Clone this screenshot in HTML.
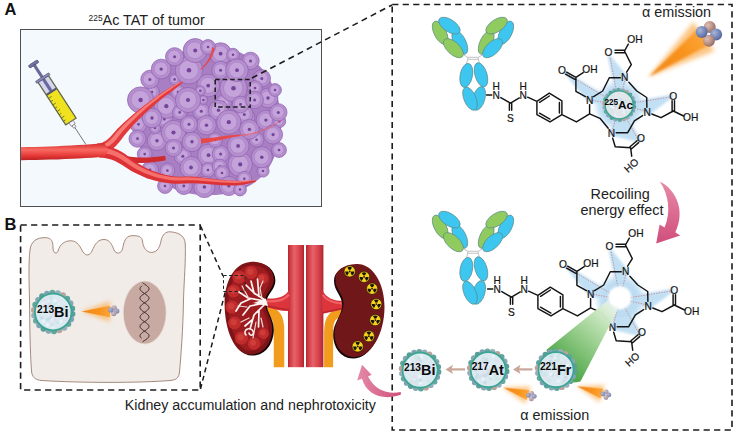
<!DOCTYPE html>
<html><head><meta charset="utf-8"><title>225Ac TAT</title>
<style>html,body{margin:0;padding:0;background:#fff;}body{width:736px;height:437px;overflow:hidden;position:relative;font-family:"Liberation Sans",sans-serif;}svg{display:block;position:absolute;left:0;top:0}</style>
</head><body>
<svg width="736" height="437" viewBox="0 0 736 437">
<defs>
<filter id="b1" x="-30%" y="-30%" width="160%" height="160%"><feGaussianBlur stdDeviation="1"/></filter>
<filter id="b2" x="-30%" y="-30%" width="160%" height="160%"><feGaussianBlur stdDeviation="2"/></filter>
<filter id="b3" x="-30%" y="-30%" width="160%" height="160%"><feGaussianBlur stdDeviation="3"/></filter>
<filter id="b05" x="-30%" y="-30%" width="160%" height="160%"><feGaussianBlur stdDeviation="0.5"/></filter>
<linearGradient id="ves" x1="0" y1="0" x2="0" y2="1">
 <stop offset="0" stop-color="#d83030"/><stop offset="0.35" stop-color="#f86a62"/><stop offset="0.7" stop-color="#e63a38"/><stop offset="1" stop-color="#b81e22"/></linearGradient>
<linearGradient id="vesT" gradientUnits="userSpaceOnUse" x1="0" y1="144" x2="0" y2="160.5">
 <stop offset="0" stop-color="#d83030"/><stop offset="0.35" stop-color="#f86a62"/><stop offset="0.7" stop-color="#e63a38"/><stop offset="1" stop-color="#b81e22"/></linearGradient>
<linearGradient id="vesv" x1="0" y1="0" x2="1" y2="0">
 <stop offset="0" stop-color="#b0262e"/><stop offset="0.12" stop-color="#cf3a42"/><stop offset="0.4" stop-color="#e8626a"/><stop offset="0.7" stop-color="#d8444c"/><stop offset="0.9" stop-color="#c2303a"/><stop offset="1" stop-color="#a8222c"/></linearGradient>
<linearGradient id="beam" x1="0" y1="0" x2="1" y2="0">
 <stop offset="0" stop-color="#f0861a"/><stop offset="0.6" stop-color="#f8921a"/><stop offset="1" stop-color="#fba53a"/></linearGradient>
<linearGradient id="gbeam" gradientUnits="userSpaceOnUse" x1="616" y1="302" x2="560" y2="364">
 <stop offset="0" stop-color="#f4faf2" stop-opacity="0.5"/><stop offset="0.12" stop-color="#e0f0da" stop-opacity="0.95"/><stop offset="0.3" stop-color="#c0e2b6"/><stop offset="0.55" stop-color="#9acf8e"/><stop offset="1" stop-color="#52a84c"/></linearGradient>
<radialGradient id="glow"><stop offset="0" stop-color="#a8d8f0"/><stop offset="0.6" stop-color="#bfe2f4"/><stop offset="1" stop-color="#d8eef8" stop-opacity="0"/></radialGradient>
<radialGradient id="sph1" cx="0.35" cy="0.35" r="0.7"><stop offset="0" stop-color="#a9b6d8"/><stop offset="0.6" stop-color="#7486ba"/><stop offset="1" stop-color="#566494"/></radialGradient>
<radialGradient id="sph2" cx="0.35" cy="0.35" r="0.7"><stop offset="0" stop-color="#dcc0b6"/><stop offset="0.6" stop-color="#b88e82"/><stop offset="1" stop-color="#8e6a66"/></radialGradient>
<radialGradient id="sph3" cx="0.35" cy="0.35" r="0.7"><stop offset="0" stop-color="#b4b8d4"/><stop offset="1" stop-color="#7c82aa"/></radialGradient>
<radialGradient id="sph4" cx="0.35" cy="0.35" r="0.7"><stop offset="0" stop-color="#d4c4c8"/><stop offset="1" stop-color="#9c8c9c"/></radialGradient>
<radialGradient id="nuc"><stop offset="0" stop-color="#dcecf4"/><stop offset="1" stop-color="#d2e4ee"/></radialGradient>
<linearGradient id="pink2" x1="0" y1="0" x2="1" y2="0"><stop offset="0" stop-color="#e58aa8"/><stop offset="1" stop-color="#cf4f7c"/></linearGradient>
<linearGradient id="pink" x1="0" y1="0" x2="0" y2="1"><stop offset="0" stop-color="#e889a6"/><stop offset="1" stop-color="#cf4f7c"/></linearGradient>
</defs>
<rect x="20.5" y="29.5" width="301" height="177" fill="#f3f9fd" stroke="#505050" stroke-width="1"/>
<text x="4.6" y="15" font-family="Liberation Sans, sans-serif" font-size="16.5" font-weight="bold" text-anchor="start" fill="#111" >A</text>
<text x="4.5" y="229.5" font-family="Liberation Sans, sans-serif" font-size="16.5" font-weight="bold" text-anchor="start" fill="#111" >B</text>
<text x="88.6" y="25" font-family="Liberation Sans, sans-serif" font-size="14.4" fill="#222"><tspan font-size="8.4" dy="-4.4">225</tspan><tspan dy="4.4">Ac TAT of tumor</tspan></text>
<g id="tumor">
<path d="M146,92 C154,66 180,46 208,46 C238,46 262,60 274,88 C284,110 284,140 272,162 C262,184 236,196 206,195 C178,195 156,184 144,158 C134,138 136,112 146,92Z" fill="#a77fc2"/>
<circle cx="263" cy="171" r="6.1" fill="#b48ecd" stroke="#9364b2" stroke-width="0.8"/>
<circle cx="262.7" cy="170.7" r="4.2" fill="#c4a3db" stroke="#a57cc3" stroke-width="0.6"/>
<circle cx="263" cy="171" r="1.3" fill="#74449a"/>
<circle cx="150" cy="170" r="8.5" fill="#b48ecd" stroke="#9364b2" stroke-width="0.8"/>
<circle cx="149.7" cy="169.7" r="5.9" fill="#c4a3db" stroke="#a57cc3" stroke-width="0.6"/>
<circle cx="150" cy="170" r="1.4" fill="#74449a"/>
<circle cx="152" cy="92" r="7.4" fill="#b48ecd" stroke="#9364b2" stroke-width="0.8"/>
<circle cx="151.7" cy="91.7" r="5.2" fill="#c4a3db" stroke="#a57cc3" stroke-width="0.6"/>
<circle cx="152" cy="92" r="1.3" fill="#74449a"/>
<circle cx="208.5" cy="155.2" r="11.0" fill="#b48ecd" stroke="#9364b2" stroke-width="0.8"/>
<circle cx="208.2" cy="154.89999999999998" r="7.7" fill="#c4a3db" stroke="#a57cc3" stroke-width="0.6"/>
<circle cx="208.5" cy="155.2" r="1.9" fill="#74449a"/>
<circle cx="246.3" cy="117" r="8.5" fill="#b48ecd" stroke="#9364b2" stroke-width="0.8"/>
<circle cx="246.0" cy="116.7" r="6.0" fill="#c4a3db" stroke="#a57cc3" stroke-width="0.6"/>
<circle cx="246.3" cy="117" r="1.5" fill="#74449a"/>
<circle cx="244.3" cy="114.4" r="8.8" fill="#b48ecd" stroke="#9364b2" stroke-width="0.8"/>
<circle cx="244.0" cy="114.10000000000001" r="6.1" fill="#c4a3db" stroke="#a57cc3" stroke-width="0.6"/>
<circle cx="244.3" cy="114.4" r="1.5" fill="#74449a"/>
<circle cx="223.5" cy="102.5" r="7.9" fill="#b48ecd" stroke="#9364b2" stroke-width="0.8"/>
<circle cx="223.2" cy="102.2" r="5.6" fill="#c4a3db" stroke="#a57cc3" stroke-width="0.6"/>
<circle cx="223.5" cy="102.5" r="1.3" fill="#74449a"/>
<circle cx="240.2" cy="164.4" r="12.2" fill="#b48ecd" stroke="#9364b2" stroke-width="0.8"/>
<circle cx="239.89999999999998" cy="164.1" r="8.5" fill="#c4a3db" stroke="#a57cc3" stroke-width="0.6"/>
<circle cx="240.2" cy="164.4" r="2.1" fill="#74449a"/>
<circle cx="144.7" cy="154.1" r="7.4" fill="#b48ecd" stroke="#9364b2" stroke-width="0.8"/>
<circle cx="144.39999999999998" cy="153.79999999999998" r="5.2" fill="#c4a3db" stroke="#a57cc3" stroke-width="0.6"/>
<circle cx="144.7" cy="154.1" r="1.3" fill="#74449a"/>
<circle cx="182.8" cy="156.2" r="8.5" fill="#b48ecd" stroke="#9364b2" stroke-width="0.8"/>
<circle cx="182.5" cy="155.89999999999998" r="6.0" fill="#c4a3db" stroke="#a57cc3" stroke-width="0.6"/>
<circle cx="182.8" cy="156.2" r="1.5" fill="#74449a"/>
<circle cx="256.6" cy="139.7" r="7.3" fill="#b48ecd" stroke="#9364b2" stroke-width="0.8"/>
<circle cx="256.3" cy="139.39999999999998" r="5.1" fill="#c4a3db" stroke="#a57cc3" stroke-width="0.6"/>
<circle cx="256.6" cy="139.7" r="1.3" fill="#74449a"/>
<circle cx="249.4" cy="129.4" r="9.8" fill="#b48ecd" stroke="#9364b2" stroke-width="0.8"/>
<circle cx="249.1" cy="129.1" r="6.8" fill="#c4a3db" stroke="#a57cc3" stroke-width="0.6"/>
<circle cx="249.4" cy="129.4" r="1.7" fill="#74449a"/>
<circle cx="164.3" cy="119.1" r="8.5" fill="#b48ecd" stroke="#9364b2" stroke-width="0.8"/>
<circle cx="164.0" cy="118.8" r="6.0" fill="#c4a3db" stroke="#a57cc3" stroke-width="0.6"/>
<circle cx="164.3" cy="119.1" r="1.5" fill="#74449a"/>
<circle cx="140.6" cy="100" r="13.1" fill="#b48ecd" stroke="#9364b2" stroke-width="0.8"/>
<circle cx="140.29999999999998" cy="99.7" r="9.2" fill="#c4a3db" stroke="#a57cc3" stroke-width="0.6"/>
<circle cx="140.6" cy="100" r="2.2" fill="#74449a"/>
<circle cx="220.6" cy="154.1" r="8.5" fill="#b48ecd" stroke="#9364b2" stroke-width="0.8"/>
<circle cx="220.29999999999998" cy="153.79999999999998" r="6.0" fill="#c4a3db" stroke="#a57cc3" stroke-width="0.6"/>
<circle cx="220.6" cy="154.1" r="1.5" fill="#74449a"/>
<circle cx="166.3" cy="106.2" r="12.2" fill="#b48ecd" stroke="#9364b2" stroke-width="0.8"/>
<circle cx="166.0" cy="105.9" r="8.5" fill="#c4a3db" stroke="#a57cc3" stroke-width="0.6"/>
<circle cx="166.3" cy="106.2" r="2.1" fill="#74449a"/>
<circle cx="208.2" cy="85.6" r="11.3" fill="#b48ecd" stroke="#9364b2" stroke-width="0.8"/>
<circle cx="207.89999999999998" cy="85.3" r="7.9" fill="#c4a3db" stroke="#a57cc3" stroke-width="0.6"/>
<circle cx="208.2" cy="85.6" r="1.9" fill="#74449a"/>
<circle cx="201.3" cy="111.3" r="8.5" fill="#b48ecd" stroke="#9364b2" stroke-width="0.8"/>
<circle cx="201.0" cy="111.0" r="6.0" fill="#c4a3db" stroke="#a57cc3" stroke-width="0.6"/>
<circle cx="201.3" cy="111.3" r="1.5" fill="#74449a"/>
<circle cx="165" cy="186" r="7.4" fill="#b48ecd" stroke="#9364b2" stroke-width="0.8"/>
<circle cx="164.7" cy="185.7" r="5.2" fill="#c4a3db" stroke="#a57cc3" stroke-width="0.6"/>
<circle cx="165" cy="186" r="1.3" fill="#74449a"/>
<circle cx="208" cy="170" r="7.3" fill="#b48ecd" stroke="#9364b2" stroke-width="0.8"/>
<circle cx="207.7" cy="169.7" r="5.1" fill="#c4a3db" stroke="#a57cc3" stroke-width="0.6"/>
<circle cx="208" cy="170" r="1.3" fill="#74449a"/>
<circle cx="157" cy="140.7" r="9.8" fill="#b48ecd" stroke="#9364b2" stroke-width="0.8"/>
<circle cx="156.7" cy="140.39999999999998" r="6.8" fill="#c4a3db" stroke="#a57cc3" stroke-width="0.6"/>
<circle cx="157" cy="140.7" r="1.7" fill="#74449a"/>
<circle cx="261.8" cy="157.2" r="10.6" fill="#b48ecd" stroke="#9364b2" stroke-width="0.8"/>
<circle cx="261.5" cy="156.89999999999998" r="7.4" fill="#c4a3db" stroke="#a57cc3" stroke-width="0.6"/>
<circle cx="261.8" cy="157.2" r="1.8" fill="#74449a"/>
<circle cx="261.8" cy="78.4" r="8.7" fill="#b48ecd" stroke="#9364b2" stroke-width="0.8"/>
<circle cx="261.5" cy="78.10000000000001" r="6.1" fill="#c4a3db" stroke="#a57cc3" stroke-width="0.6"/>
<circle cx="261.8" cy="78.4" r="1.5" fill="#74449a"/>
<circle cx="220.6" cy="53.7" r="10.9" fill="#b48ecd" stroke="#9364b2" stroke-width="0.8"/>
<circle cx="220.29999999999998" cy="53.400000000000006" r="7.6" fill="#c4a3db" stroke="#a57cc3" stroke-width="0.6"/>
<circle cx="220.6" cy="53.7" r="1.9" fill="#74449a"/>
<circle cx="268" cy="98" r="9.9" fill="#b48ecd" stroke="#9364b2" stroke-width="0.8"/>
<circle cx="267.7" cy="97.7" r="6.9" fill="#c4a3db" stroke="#a57cc3" stroke-width="0.6"/>
<circle cx="268" cy="98" r="1.7" fill="#74449a"/>
<circle cx="173.5" cy="132.5" r="12.2" fill="#b48ecd" stroke="#9364b2" stroke-width="0.8"/>
<circle cx="173.2" cy="132.2" r="8.5" fill="#c4a3db" stroke="#a57cc3" stroke-width="0.6"/>
<circle cx="173.5" cy="132.5" r="2.1" fill="#74449a"/>
<circle cx="174.6" cy="79.4" r="5.5" fill="#b48ecd" stroke="#9364b2" stroke-width="0.8"/>
<circle cx="174.29999999999998" cy="79.10000000000001" r="3.8" fill="#c4a3db" stroke="#a57cc3" stroke-width="0.6"/>
<circle cx="174.6" cy="79.4" r="1.3" fill="#74449a"/>
<circle cx="250.5" cy="60.9" r="8.7" fill="#b48ecd" stroke="#9364b2" stroke-width="0.8"/>
<circle cx="250.2" cy="60.6" r="6.1" fill="#c4a3db" stroke="#a57cc3" stroke-width="0.6"/>
<circle cx="250.5" cy="60.9" r="1.5" fill="#74449a"/>
<circle cx="192" cy="141.8" r="9.8" fill="#b48ecd" stroke="#9364b2" stroke-width="0.8"/>
<circle cx="191.7" cy="141.5" r="6.8" fill="#c4a3db" stroke="#a57cc3" stroke-width="0.6"/>
<circle cx="192" cy="141.8" r="1.7" fill="#74449a"/>
<circle cx="204.4" cy="187" r="10.6" fill="#b48ecd" stroke="#9364b2" stroke-width="0.8"/>
<circle cx="204.1" cy="186.7" r="7.4" fill="#c4a3db" stroke="#a57cc3" stroke-width="0.6"/>
<circle cx="204.4" cy="187" r="1.8" fill="#74449a"/>
<circle cx="149.9" cy="79.4" r="9.1" fill="#b48ecd" stroke="#9364b2" stroke-width="0.8"/>
<circle cx="149.6" cy="79.10000000000001" r="6.4" fill="#c4a3db" stroke="#a57cc3" stroke-width="0.6"/>
<circle cx="149.9" cy="79.4" r="1.5" fill="#74449a"/>
<circle cx="220.6" cy="70.2" r="8.8" fill="#b48ecd" stroke="#9364b2" stroke-width="0.8"/>
<circle cx="220.29999999999998" cy="69.9" r="6.1" fill="#c4a3db" stroke="#a57cc3" stroke-width="0.6"/>
<circle cx="220.6" cy="70.2" r="1.5" fill="#74449a"/>
<circle cx="275" cy="90" r="6.4" fill="#b48ecd" stroke="#9364b2" stroke-width="0.8"/>
<circle cx="274.7" cy="89.7" r="4.5" fill="#c4a3db" stroke="#a57cc3" stroke-width="0.6"/>
<circle cx="275" cy="90" r="1.3" fill="#74449a"/>
<circle cx="233" cy="54.7" r="6.4" fill="#b48ecd" stroke="#9364b2" stroke-width="0.8"/>
<circle cx="232.7" cy="54.400000000000006" r="4.5" fill="#c4a3db" stroke="#a57cc3" stroke-width="0.6"/>
<circle cx="233" cy="54.7" r="1.3" fill="#74449a"/>
<circle cx="219.6" cy="166.5" r="7.3" fill="#b48ecd" stroke="#9364b2" stroke-width="0.8"/>
<circle cx="219.29999999999998" cy="166.2" r="5.1" fill="#c4a3db" stroke="#a57cc3" stroke-width="0.6"/>
<circle cx="219.6" cy="166.5" r="1.3" fill="#74449a"/>
<circle cx="218.5" cy="110.3" r="10.0" fill="#b48ecd" stroke="#9364b2" stroke-width="0.8"/>
<circle cx="218.2" cy="110.0" r="7.0" fill="#c4a3db" stroke="#a57cc3" stroke-width="0.6"/>
<circle cx="218.5" cy="110.3" r="1.7" fill="#74449a"/>
<circle cx="238.1" cy="145.9" r="11.0" fill="#b48ecd" stroke="#9364b2" stroke-width="0.8"/>
<circle cx="237.79999999999998" cy="145.6" r="7.7" fill="#c4a3db" stroke="#a57cc3" stroke-width="0.6"/>
<circle cx="238.1" cy="145.9" r="1.9" fill="#74449a"/>
<circle cx="265.9" cy="120.1" r="9.8" fill="#b48ecd" stroke="#9364b2" stroke-width="0.8"/>
<circle cx="265.59999999999997" cy="119.8" r="6.8" fill="#c4a3db" stroke="#a57cc3" stroke-width="0.6"/>
<circle cx="265.9" cy="120.1" r="1.7" fill="#74449a"/>
<circle cx="233.5" cy="88.2" r="13.7" fill="#b48ecd" stroke="#9364b2" stroke-width="0.8"/>
<circle cx="233.2" cy="87.9" r="9.6" fill="#c4a3db" stroke="#a57cc3" stroke-width="0.6"/>
<circle cx="233.5" cy="88.2" r="2.3" fill="#74449a"/>
<circle cx="222" cy="173" r="7.3" fill="#b48ecd" stroke="#9364b2" stroke-width="0.8"/>
<circle cx="221.7" cy="172.7" r="5.1" fill="#c4a3db" stroke="#a57cc3" stroke-width="0.6"/>
<circle cx="222" cy="173" r="1.3" fill="#74449a"/>
<circle cx="240.5" cy="104.5" r="8.3" fill="#b48ecd" stroke="#9364b2" stroke-width="0.8"/>
<circle cx="240.2" cy="104.2" r="5.8" fill="#c4a3db" stroke="#a57cc3" stroke-width="0.6"/>
<circle cx="240.5" cy="104.5" r="1.4" fill="#74449a"/>
<circle cx="161.2" cy="69.1" r="9.9" fill="#b48ecd" stroke="#9364b2" stroke-width="0.8"/>
<circle cx="160.89999999999998" cy="68.8" r="6.9" fill="#c4a3db" stroke="#a57cc3" stroke-width="0.6"/>
<circle cx="161.2" cy="69.1" r="1.7" fill="#74449a"/>
<circle cx="191" cy="167.5" r="11.0" fill="#b48ecd" stroke="#9364b2" stroke-width="0.8"/>
<circle cx="190.7" cy="167.2" r="7.7" fill="#c4a3db" stroke="#a57cc3" stroke-width="0.6"/>
<circle cx="191" cy="167.5" r="1.9" fill="#74449a"/>
<circle cx="203.4" cy="100" r="4.4" fill="#b48ecd" stroke="#9364b2" stroke-width="0.8"/>
<circle cx="203.1" cy="99.7" r="3.1" fill="#c4a3db" stroke="#a57cc3" stroke-width="0.6"/>
<circle cx="203.4" cy="100" r="1.3" fill="#74449a"/>
<circle cx="189" cy="70.2" r="13.8" fill="#b48ecd" stroke="#9364b2" stroke-width="0.8"/>
<circle cx="188.7" cy="69.9" r="9.7" fill="#c4a3db" stroke="#a57cc3" stroke-width="0.6"/>
<circle cx="189" cy="70.2" r="2.3" fill="#74449a"/>
<circle cx="167.4" cy="170.6" r="7.4" fill="#b48ecd" stroke="#9364b2" stroke-width="0.8"/>
<circle cx="167.1" cy="170.29999999999998" r="5.2" fill="#c4a3db" stroke="#a57cc3" stroke-width="0.6"/>
<circle cx="167.4" cy="170.6" r="1.3" fill="#74449a"/>
<circle cx="195.2" cy="50.6" r="12.0" fill="#b48ecd" stroke="#9364b2" stroke-width="0.8"/>
<circle cx="194.89999999999998" cy="50.300000000000004" r="8.4" fill="#c4a3db" stroke="#a57cc3" stroke-width="0.6"/>
<circle cx="195.2" cy="50.6" r="2.0" fill="#74449a"/>
<circle cx="255" cy="88" r="7.3" fill="#b48ecd" stroke="#9364b2" stroke-width="0.8"/>
<circle cx="254.7" cy="87.7" r="5.1" fill="#c4a3db" stroke="#a57cc3" stroke-width="0.6"/>
<circle cx="255" cy="88" r="1.3" fill="#74449a"/>
<circle cx="254.6" cy="100" r="8.8" fill="#b48ecd" stroke="#9364b2" stroke-width="0.8"/>
<circle cx="254.29999999999998" cy="99.7" r="6.1" fill="#c4a3db" stroke="#a57cc3" stroke-width="0.6"/>
<circle cx="254.6" cy="100" r="1.5" fill="#74449a"/>
<circle cx="279" cy="150" r="7.4" fill="#b48ecd" stroke="#9364b2" stroke-width="0.8"/>
<circle cx="278.7" cy="149.7" r="5.2" fill="#c4a3db" stroke="#a57cc3" stroke-width="0.6"/>
<circle cx="279" cy="150" r="1.3" fill="#74449a"/>
<circle cx="279.3" cy="121.2" r="6.4" fill="#b48ecd" stroke="#9364b2" stroke-width="0.8"/>
<circle cx="279.0" cy="120.9" r="4.5" fill="#c4a3db" stroke="#a57cc3" stroke-width="0.6"/>
<circle cx="279.3" cy="121.2" r="1.3" fill="#74449a"/>
<circle cx="244.3" cy="178.8" r="7.4" fill="#b48ecd" stroke="#9364b2" stroke-width="0.8"/>
<circle cx="244.0" cy="178.5" r="5.2" fill="#c4a3db" stroke="#a57cc3" stroke-width="0.6"/>
<circle cx="244.3" cy="178.8" r="1.3" fill="#74449a"/>
<circle cx="208" cy="47" r="7.4" fill="#b48ecd" stroke="#9364b2" stroke-width="0.8"/>
<circle cx="207.7" cy="46.7" r="5.2" fill="#c4a3db" stroke="#a57cc3" stroke-width="0.6"/>
<circle cx="208" cy="47" r="1.3" fill="#74449a"/>
<circle cx="200.3" cy="90.7" r="5.0" fill="#b48ecd" stroke="#9364b2" stroke-width="0.8"/>
<circle cx="200.0" cy="90.4" r="3.5" fill="#c4a3db" stroke="#a57cc3" stroke-width="0.6"/>
<circle cx="200.3" cy="90.7" r="1.3" fill="#74449a"/>
<circle cx="183.8" cy="186" r="8.5" fill="#b48ecd" stroke="#9364b2" stroke-width="0.8"/>
<circle cx="183.5" cy="185.7" r="5.9" fill="#c4a3db" stroke="#a57cc3" stroke-width="0.6"/>
<circle cx="183.8" cy="186" r="1.4" fill="#74449a"/>
<circle cx="278.3" cy="112.4" r="8.7" fill="#b48ecd" stroke="#9364b2" stroke-width="0.8"/>
<circle cx="278.0" cy="112.10000000000001" r="6.1" fill="#c4a3db" stroke="#a57cc3" stroke-width="0.6"/>
<circle cx="278.3" cy="112.4" r="1.5" fill="#74449a"/>
<circle cx="215" cy="140" r="7.3" fill="#b48ecd" stroke="#9364b2" stroke-width="0.8"/>
<circle cx="214.7" cy="139.7" r="5.1" fill="#c4a3db" stroke="#a57cc3" stroke-width="0.6"/>
<circle cx="215" cy="140" r="1.3" fill="#74449a"/>
<circle cx="173.5" cy="148" r="8.5" fill="#b48ecd" stroke="#9364b2" stroke-width="0.8"/>
<circle cx="173.2" cy="147.7" r="6.0" fill="#c4a3db" stroke="#a57cc3" stroke-width="0.6"/>
<circle cx="173.5" cy="148" r="1.5" fill="#74449a"/>
<circle cx="228.8" cy="186" r="9.5" fill="#b48ecd" stroke="#9364b2" stroke-width="0.8"/>
<circle cx="228.5" cy="185.7" r="6.7" fill="#c4a3db" stroke="#a57cc3" stroke-width="0.6"/>
<circle cx="228.8" cy="186" r="1.6" fill="#74449a"/>
<circle cx="206.5" cy="125.3" r="9.8" fill="#b48ecd" stroke="#9364b2" stroke-width="0.8"/>
<circle cx="206.2" cy="125.0" r="6.8" fill="#c4a3db" stroke="#a57cc3" stroke-width="0.6"/>
<circle cx="206.5" cy="125.3" r="1.7" fill="#74449a"/>
<circle cx="178" cy="92" r="7.3" fill="#b48ecd" stroke="#9364b2" stroke-width="0.8"/>
<circle cx="177.7" cy="91.7" r="5.1" fill="#c4a3db" stroke="#a57cc3" stroke-width="0.6"/>
<circle cx="178" cy="92" r="1.3" fill="#74449a"/>
<circle cx="228.8" cy="122.2" r="12.2" fill="#b48ecd" stroke="#9364b2" stroke-width="0.8"/>
<circle cx="228.5" cy="121.9" r="8.5" fill="#c4a3db" stroke="#a57cc3" stroke-width="0.6"/>
<circle cx="228.8" cy="122.2" r="2.1" fill="#74449a"/>
<circle cx="179.7" cy="112.4" r="7.3" fill="#b48ecd" stroke="#9364b2" stroke-width="0.8"/>
<circle cx="179.39999999999998" cy="112.10000000000001" r="5.1" fill="#c4a3db" stroke="#a57cc3" stroke-width="0.6"/>
<circle cx="179.7" cy="112.4" r="1.3" fill="#74449a"/>
<circle cx="138.5" cy="124.3" r="8.5" fill="#b48ecd" stroke="#9364b2" stroke-width="0.8"/>
<circle cx="138.2" cy="124.0" r="5.9" fill="#c4a3db" stroke="#a57cc3" stroke-width="0.6"/>
<circle cx="138.5" cy="124.3" r="1.4" fill="#74449a"/>
<circle cx="189" cy="124.3" r="8.5" fill="#b48ecd" stroke="#9364b2" stroke-width="0.8"/>
<circle cx="188.7" cy="124.0" r="6.0" fill="#c4a3db" stroke="#a57cc3" stroke-width="0.6"/>
<circle cx="189" cy="124.3" r="1.5" fill="#74449a"/>
<circle cx="155" cy="128" r="5.5" fill="#b48ecd" stroke="#9364b2" stroke-width="0.8"/>
<circle cx="154.7" cy="127.7" r="3.8" fill="#c4a3db" stroke="#a57cc3" stroke-width="0.6"/>
<circle cx="155" cy="128" r="1.3" fill="#74449a"/>
<circle cx="174.6" cy="56.8" r="9.1" fill="#b48ecd" stroke="#9364b2" stroke-width="0.8"/>
<circle cx="174.29999999999998" cy="56.5" r="6.4" fill="#c4a3db" stroke="#a57cc3" stroke-width="0.6"/>
<circle cx="174.6" cy="56.8" r="1.5" fill="#74449a"/>
<circle cx="188" cy="100" r="12.6" fill="#b48ecd" stroke="#9364b2" stroke-width="0.8"/>
<circle cx="187.7" cy="99.7" r="8.8" fill="#c4a3db" stroke="#a57cc3" stroke-width="0.6"/>
<circle cx="188" cy="100" r="2.1" fill="#74449a"/>
<circle cx="152" cy="118" r="9.8" fill="#b48ecd" stroke="#9364b2" stroke-width="0.8"/>
<circle cx="151.7" cy="117.7" r="6.8" fill="#c4a3db" stroke="#a57cc3" stroke-width="0.6"/>
<circle cx="152" cy="118" r="1.7" fill="#74449a"/>
<circle cx="273.1" cy="134.6" r="9.5" fill="#b48ecd" stroke="#9364b2" stroke-width="0.8"/>
<circle cx="272.8" cy="134.29999999999998" r="6.7" fill="#c4a3db" stroke="#a57cc3" stroke-width="0.6"/>
<circle cx="273.1" cy="134.6" r="1.6" fill="#74449a"/>
<circle cx="237" cy="70.2" r="11.3" fill="#b48ecd" stroke="#9364b2" stroke-width="0.8"/>
<circle cx="236.7" cy="69.9" r="7.9" fill="#c4a3db" stroke="#a57cc3" stroke-width="0.6"/>
<circle cx="237" cy="70.2" r="1.9" fill="#74449a"/>
<circle cx="240" cy="189.5" r="6.4" fill="#b48ecd" stroke="#9364b2" stroke-width="0.8"/>
<circle cx="239.7" cy="189.2" r="4.5" fill="#c4a3db" stroke="#a57cc3" stroke-width="0.6"/>
<circle cx="240" cy="189.5" r="1.3" fill="#74449a"/>
<circle cx="137.5" cy="138.7" r="8.5" fill="#b48ecd" stroke="#9364b2" stroke-width="0.8"/>
<circle cx="137.2" cy="138.39999999999998" r="5.9" fill="#c4a3db" stroke="#a57cc3" stroke-width="0.6"/>
<circle cx="137.5" cy="138.7" r="1.4" fill="#74449a"/>
</g>
<path d="M212.1,47.2 L211.7,50.2 L211.0,53.0 L210.1,55.6 L209.0,58.0 L207.7,60.3 L206.4,62.4 L204.9,64.3 L203.4,66.1 L201.8,67.7 L200.2,69.2 L200.8,69.8 L202.5,68.4 L204.2,66.9 L206.0,65.2 L207.7,63.3 L209.3,61.2 L210.7,59.0 L212.1,56.5 L213.2,53.8 L214.2,50.8 L214.9,47.8Z" fill="#e24a50" stroke-linejoin="round" />
<path d="M201.2,143.5 L204.7,143.0 L208.2,142.5 L211.6,141.8 L215.0,141.1 L218.3,140.4 L221.5,139.7 L224.7,138.9 L227.9,138.2 L231.0,137.6 L234.0,137.0 L237.1,136.6 L240.0,136.2 L240.0,134.8 L236.9,134.8 L233.8,135.0 L230.6,135.3 L227.4,135.6 L224.2,136.0 L221.0,136.5 L217.7,136.9 L214.3,137.4 L211.0,137.8 L207.6,138.1 L204.2,138.3 L200.8,138.5Z" fill="#e8484a" stroke-linejoin="round" />
<path d="M240.1,136.3 L244.5,135.8 L248.7,135.1 L252.6,134.2 L256.4,133.2 L260.0,132.0 L263.5,130.7 L266.8,129.2 L270.0,127.7 L273.1,126.0 L276.2,124.2 L279.2,122.2 L282.2,120.3 L281.8,119.7 L278.8,121.7 L275.8,123.5 L272.7,125.2 L269.6,126.8 L266.4,128.3 L263.0,129.7 L259.6,130.9 L256.0,132.0 L252.3,132.9 L248.4,133.7 L244.3,134.3 L239.9,134.7Z" fill="#e8606a" stroke-linejoin="round" opacity="0.8"/>
<path d="M121.3,160.9 L124.7,161.7 L128.2,162.2 L131.8,162.6 L135.4,162.9 L139.1,163.0 L142.9,162.9 L146.6,162.7 L150.4,162.4 L154.2,162.0 L158.1,161.5 L162.0,160.9 L165.8,160.3 L165.2,155.7 L161.3,156.3 L157.5,156.7 L153.7,157.1 L150.0,157.4 L146.4,157.5 L142.8,157.6 L139.2,157.5 L135.8,157.3 L132.4,157.0 L129.1,156.5 L125.9,155.9 L122.7,155.1Z" fill="#cf2a2e" stroke-linejoin="round" />
<path d="M101.9,154.7 L104.7,153.6 L107.5,152.2 L110.1,150.6 L112.4,149.0 L114.5,147.2 L116.3,145.4 L118.0,143.5 L119.6,141.7 L121.0,139.9 L122.3,138.2 L123.5,136.6 L124.6,135.2 L127.2,132.0 L130.2,128.7 L133.4,125.1 L136.9,121.4 L140.6,117.7 L144.6,113.8 L148.8,109.9 L153.3,105.9 L157.9,102.0 L162.8,98.1 L167.8,94.2 L173.1,90.5 L174.2,89.6 L175.3,88.7 L176.3,87.9 L177.2,87.2 L178.1,86.5 L178.9,85.8 L179.7,85.1 L180.4,84.5 L181.1,84.0 L181.8,83.4 L182.5,82.9 L183.2,82.4 L182.8,81.6 L182.0,81.9 L181.2,82.2 L180.3,82.6 L179.4,82.9 L178.6,83.3 L177.6,83.7 L176.6,84.2 L175.6,84.7 L174.5,85.2 L173.4,85.8 L172.2,86.4 L170.9,87.1 L165.3,90.6 L159.9,94.1 L154.7,97.7 L149.6,101.4 L144.8,105.0 L140.1,108.7 L135.7,112.3 L131.6,115.8 L127.6,119.3 L124.0,122.6 L120.6,125.8 L117.4,128.8 L116.0,130.5 L114.6,132.1 L113.3,133.6 L112.0,135.1 L110.6,136.6 L109.2,138.0 L107.7,139.3 L106.1,140.5 L104.4,141.6 L102.5,142.6 L100.5,143.5 L98.1,144.3Z" fill="#e23a3c" stroke-linejoin="round" />
<path d="M100.0,150.8 L102.7,149.7 L105.2,148.5 L107.6,147.1 L109.7,145.6 L111.6,144.0 L113.4,142.4 L115.0,140.7 L116.5,138.9 L117.9,137.2 L119.2,135.6 L120.5,134.0 L121.6,132.5 L124.4,129.4 L127.5,126.0 L130.9,122.6 L134.5,118.9 L138.4,115.2 L142.5,111.5 L146.8,107.6 L151.4,103.8 L156.2,99.9 L161.1,96.1 L166.3,92.3 L171.6,88.7 L172.8,87.8 L173.9,87.0 L175.0,86.3 L175.9,85.6 L176.8,85.0 L177.7,84.4 L178.5,83.8 L179.3,83.3 L180.1,82.8 L180.8,82.3 L181.6,81.8 L182.3,81.3 L182.1,81.1 L181.3,81.4 L180.6,81.8 L179.8,82.2 L178.9,82.6 L178.1,83.1 L177.2,83.6 L176.3,84.1 L175.3,84.6 L174.3,85.2 L173.2,85.9 L172.0,86.6 L170.8,87.3 L165.3,90.9 L160.0,94.5 L154.8,98.2 L149.9,101.9 L145.2,105.7 L140.7,109.4 L136.4,113.1 L132.4,116.7 L128.6,120.2 L125.0,123.6 L121.8,126.8 L118.8,129.9 L117.4,131.5 L116.1,133.1 L114.8,134.7 L113.5,136.3 L112.0,137.9 L110.5,139.4 L108.9,140.9 L107.2,142.3 L105.3,143.5 L103.2,144.7 L101.0,145.7 L98.4,146.6Z" fill="#f77c78" stroke-linejoin="round" />
<path d="M99.5,157.7 L102.3,157.8 L104.6,158.1 L106.9,158.5 L109.0,159.0 L111.1,159.6 L113.1,160.3 L115.0,161.1 L116.8,162.0 L118.6,163.0 L120.4,164.1 L122.2,165.1 L124.0,166.3 L127.5,168.6 L131.3,170.9 L135.3,173.0 L139.6,175.1 L144.0,177.0 L148.6,178.7 L153.4,180.2 L158.4,181.5 L163.5,182.5 L168.8,183.3 L174.3,183.7 L180.0,183.8 L186.1,183.4 L191.8,183.3 L197.6,183.5 L203.4,183.8 L209.4,184.3 L215.5,184.8 L221.7,185.2 L228.2,185.5 L234.9,185.4 L241.7,184.9 L248.8,183.5 L256.1,181.6 L255.9,180.4 L248.5,180.9 L241.5,180.9 L234.8,180.8 L228.4,180.5 L222.1,180.0 L216.0,179.3 L210.0,178.5 L204.0,177.7 L198.0,177.1 L192.0,176.6 L185.9,176.4 L180.0,176.8 L174.9,176.4 L169.9,175.7 L165.0,174.8 L160.4,173.6 L155.9,172.1 L151.7,170.5 L147.6,168.7 L143.7,166.7 L140.0,164.6 L136.5,162.4 L133.2,160.1 L130.0,157.7 L128.3,156.4 L126.4,155.0 L124.4,153.6 L122.3,152.3 L120.1,151.0 L117.7,149.8 L115.2,148.7 L112.5,147.7 L109.7,146.8 L106.7,146.1 L103.6,145.6 L100.5,145.3Z" fill="#dc3236" stroke-linejoin="round" />
<path d="M100.1,152.9 L102.9,153.1 L105.5,153.4 L108.0,153.9 L110.3,154.5 L112.6,155.2 L114.7,156.1 L116.7,157.0 L118.7,158.0 L120.6,159.1 L122.5,160.2 L124.3,161.4 L126.0,162.6 L129.5,164.9 L133.1,167.2 L137.0,169.4 L141.1,171.5 L145.3,173.4 L149.8,175.1 L154.4,176.7 L159.2,178.0 L164.2,179.1 L169.4,179.9 L174.8,180.4 L180.3,180.6 L186.3,180.2 L192.1,180.2 L198.0,180.4 L203.9,180.9 L209.9,181.4 L215.9,182.0 L222.2,182.5 L228.6,182.8 L235.2,182.9 L242.0,182.5 L249.0,181.5 L256.3,180.0 L256.3,179.6 L248.9,180.5 L241.9,180.8 L235.1,180.9 L228.6,180.7 L222.3,180.3 L216.2,179.7 L210.1,179.0 L204.1,178.3 L198.2,177.7 L192.2,177.4 L186.2,177.3 L180.3,177.6 L175.0,177.3 L169.9,176.7 L164.9,175.8 L160.1,174.7 L155.5,173.3 L151.1,171.7 L146.8,169.9 L142.8,167.9 L138.9,165.9 L135.3,163.7 L131.8,161.4 L128.6,159.0 L126.8,157.7 L124.9,156.4 L123.0,155.1 L121.0,153.9 L118.9,152.7 L116.7,151.7 L114.3,150.7 L111.8,149.8 L109.2,149.0 L106.4,148.4 L103.5,147.9 L100.5,147.7Z" fill="#f5706c" stroke-linejoin="round" />
<path d="M21.1,160.2 L28.4,160.1 L35.7,160.0 L43.0,159.8 L50.3,159.6 L57.5,159.4 L64.7,159.1 L71.7,158.8 L78.6,158.5 L85.4,158.1 L92.0,157.7 L98.4,157.2 L104.5,156.8 L103.5,143.2 L97.4,143.7 L91.1,144.2 L84.6,144.7 L77.9,145.1 L71.0,145.5 L64.1,145.8 L57.0,146.2 L49.9,146.5 L42.6,146.7 L35.4,146.9 L28.2,147.1 L20.9,147.2Z" fill="url(#vesT)" stroke-linejoin="round" />
<path d="M97,143.6 L104,143 L109,150 L104,157 L97,157Z" fill="url(#vesT)"/>
<g transform="translate(33.6,64) rotate(-33)">
<rect x="-5.4" y="-1.5" width="10.8" height="3" rx="1.3" fill="#7272a6" stroke="#45456e" stroke-width="0.7"/>
<rect x="-1.2" y="1" width="2.4" height="32" fill="#6a6aa0" stroke="#45456e" stroke-width="0.5"/>
<rect x="-6.2" y="17.5" width="12.4" height="51" fill="#d3d5f1"/>
<rect x="-1.3" y="18" width="2.6" height="15" fill="#6a6aa0" stroke="#45456e" stroke-width="0.4"/>
<rect x="-5.6" y="33.5" width="11.2" height="34.5" fill="#f0e21c"/>
<rect x="-6" y="31.8" width="12" height="2.2" fill="#55556e"/>
<rect x="-6.2" y="17.5" width="12.4" height="51" fill="none" stroke="#66663c" stroke-width="1.2"/>
<line x1="-5.8" x2="-2.6" y1="37.0" y2="37.0" stroke="#5a5a2c" stroke-width="0.7"/>
<line x1="-5.8" x2="-3.6" y1="40.9" y2="40.9" stroke="#5a5a2c" stroke-width="0.7"/>
<line x1="-5.8" x2="-2.6" y1="44.8" y2="44.8" stroke="#5a5a2c" stroke-width="0.7"/>
<line x1="-5.8" x2="-3.6" y1="48.7" y2="48.7" stroke="#5a5a2c" stroke-width="0.7"/>
<line x1="-5.8" x2="-2.6" y1="52.6" y2="52.6" stroke="#5a5a2c" stroke-width="0.7"/>
<line x1="-5.8" x2="-3.6" y1="56.5" y2="56.5" stroke="#5a5a2c" stroke-width="0.7"/>
<line x1="-5.8" x2="-2.6" y1="60.4" y2="60.4" stroke="#5a5a2c" stroke-width="0.7"/>
<line x1="-5.8" x2="-3.6" y1="64.3" y2="64.3" stroke="#5a5a2c" stroke-width="0.7"/>
<rect x="-8" y="15.6" width="16" height="2.4" rx="0.9" fill="#8c8cb8" stroke="#45456e" stroke-width="0.6"/>
<rect x="-2.4" y="68.8" width="4.8" height="4" fill="#f4f4fa" stroke="#6a6a6a" stroke-width="0.6"/>
<rect x="-1.4" y="72.8" width="2.8" height="3" fill="#f4f4fa" stroke="#6a6a6a" stroke-width="0.6"/>
<line x1="0" y1="75.8" x2="0" y2="96" stroke="#666" stroke-width="0.8"/>
</g>
<rect x="215.2" y="79.5" width="35" height="27.5" fill="none" stroke="#1c1c1c" stroke-width="1.5" stroke-dasharray="4.5,3"/>
<line x1="252" y1="78" x2="392" y2="5" stroke="#1c1c1c" stroke-width="1.6" stroke-dasharray="6,4.3"/>
<path d="M392.2,4.5 H732 V430 H392.2 Z" fill="none" stroke="#1c1c1c" stroke-width="1.6" stroke-dasharray="6.2,4.3"/>
<g transform="translate(0,0)" stroke="#5e8a8a" stroke-width="0.7">
<ellipse cx="440.2" cy="32.8" rx="12.8" ry="6.0" transform="rotate(63 440.2 32.8)" fill="#8fcb5e"/>
<ellipse cx="459.8" cy="42.4" rx="13" ry="6.1" transform="rotate(64 459.8 42.4)" fill="#3cc6f0"/>
<ellipse cx="449.4" cy="25.6" rx="12.2" ry="6.1" transform="rotate(33 449.4 25.6)" fill="#3cc6f0"/>
<ellipse cx="453.4" cy="48.2" rx="12.4" ry="6.2" transform="rotate(43 453.4 48.2)" fill="#8fcb5e"/>
<ellipse cx="505.8" cy="32.8" rx="12.8" ry="6.0" transform="rotate(-63 505.8 32.8)" fill="#3cc6f0"/>
<ellipse cx="486.2" cy="42.4" rx="13" ry="6.1" transform="rotate(-64 486.2 42.4)" fill="#8fcb5e"/>
<ellipse cx="496.6" cy="25.6" rx="12.2" ry="6.1" transform="rotate(-33 496.6 25.6)" fill="#8fcb5e"/>
<ellipse cx="492.6" cy="48.2" rx="12.4" ry="6.2" transform="rotate(-43 492.6 48.2)" fill="#3cc6f0"/>
<path d="M462.5,54 L468,57.6 L466.5,64 M483.5,54 L478,57.6 L479.5,64 M468,57.3 H478 M468,59.3 H478" fill="none" stroke="#a9a9a9" stroke-width="0.7"/>
<ellipse cx="466.3" cy="75.4" rx="6.2" ry="12.2" transform="rotate(11 466.3 75.4)" fill="#3cc6f0"/>
<ellipse cx="481" cy="74.8" rx="6" ry="12.5" transform="rotate(-17 481 74.8)" fill="#3cc6f0"/>
<ellipse cx="478.9" cy="98.4" rx="6" ry="12.2" transform="rotate(16 478.9 98.4)" fill="#3cc6f0"/>
<ellipse cx="470" cy="98.7" rx="6" ry="12.3" transform="rotate(-23 470 98.7)" fill="#3cc6f0"/>
</g>
<g transform="translate(0,194)" stroke="#5e8a8a" stroke-width="0.7">
<ellipse cx="440.2" cy="32.8" rx="12.8" ry="6.0" transform="rotate(63 440.2 32.8)" fill="#8fcb5e"/>
<ellipse cx="459.8" cy="42.4" rx="13" ry="6.1" transform="rotate(64 459.8 42.4)" fill="#3cc6f0"/>
<ellipse cx="449.4" cy="25.6" rx="12.2" ry="6.1" transform="rotate(33 449.4 25.6)" fill="#3cc6f0"/>
<ellipse cx="453.4" cy="48.2" rx="12.4" ry="6.2" transform="rotate(43 453.4 48.2)" fill="#8fcb5e"/>
<ellipse cx="505.8" cy="32.8" rx="12.8" ry="6.0" transform="rotate(-63 505.8 32.8)" fill="#3cc6f0"/>
<ellipse cx="486.2" cy="42.4" rx="13" ry="6.1" transform="rotate(-64 486.2 42.4)" fill="#8fcb5e"/>
<ellipse cx="496.6" cy="25.6" rx="12.2" ry="6.1" transform="rotate(-33 496.6 25.6)" fill="#8fcb5e"/>
<ellipse cx="492.6" cy="48.2" rx="12.4" ry="6.2" transform="rotate(-43 492.6 48.2)" fill="#3cc6f0"/>
<path d="M462.5,54 L468,57.6 L466.5,64 M483.5,54 L478,57.6 L479.5,64 M468,57.3 H478 M468,59.3 H478" fill="none" stroke="#a9a9a9" stroke-width="0.7"/>
<ellipse cx="466.3" cy="75.4" rx="6.2" ry="12.2" transform="rotate(11 466.3 75.4)" fill="#3cc6f0"/>
<ellipse cx="481" cy="74.8" rx="6" ry="12.5" transform="rotate(-17 481 74.8)" fill="#3cc6f0"/>
<ellipse cx="478.9" cy="98.4" rx="6" ry="12.2" transform="rotate(16 478.9 98.4)" fill="#3cc6f0"/>
<ellipse cx="470" cy="98.7" rx="6" ry="12.3" transform="rotate(-23 470 98.7)" fill="#3cc6f0"/>
</g>
<g transform="translate(648.8,76.7) rotate(-36.1)">
<path d="M0,0 L68.3,-18.0 L68.3,18.0Z" fill="#fbae52" opacity="0.7" filter="url(#b2)"/>
<path d="M0,0 L68.3,-10.0 L68.3,10.0Z" fill="url(#beam)" filter="url(#b1)"/>
</g>
<circle cx="709.7" cy="26.9" r="6.0" fill="url(#sph2)"/>
<circle cx="716.1" cy="34.4" r="6.0" fill="url(#sph1)"/>
<circle cx="708.9" cy="40.8" r="6.0" fill="url(#sph2)"/>
<circle cx="701.7" cy="32.0" r="6.0" fill="url(#sph1)"/>
<g transform="translate(0,0)">
<g filter="url(#b1)">
<circle cx="619.2" cy="105.2" r="23" fill="#c2e0f4" filter="url(#b2)"/>
<path d="M619.2,105.2 L566,73 L589,101Z" fill="#c2e0f4" stroke="#c2e0f4" stroke-width="3" stroke-linejoin="round"/>
<path d="M619.2,105.2 L609,56 L626,77Z" fill="#c2e0f4" stroke="#c2e0f4" stroke-width="3" stroke-linejoin="round"/>
<path d="M619.2,105.2 L672,96 L649,113Z" fill="#c2e0f4" stroke="#c2e0f4" stroke-width="3" stroke-linejoin="round"/>
<path d="M619.2,105.2 L640,141 L611,134Z" fill="#c2e0f4" stroke="#c2e0f4" stroke-width="3" stroke-linejoin="round"/>
<circle cx="619.2" cy="105.2" r="18" fill="#bcdcf2"/>
</g>
<line x1="619.2" y1="105.2" x2="566" y2="73.5" stroke="#c47f86" stroke-width="0.8" stroke-dasharray="1.4,1.2"/>
<line x1="619.2" y1="105.2" x2="590.5" y2="100" stroke="#c47f86" stroke-width="0.8" stroke-dasharray="1.4,1.2"/>
<line x1="619.2" y1="105.2" x2="610" y2="57" stroke="#c47f86" stroke-width="0.8" stroke-dasharray="1.4,1.2"/>
<line x1="619.2" y1="105.2" x2="625" y2="79" stroke="#c47f86" stroke-width="0.8" stroke-dasharray="1.4,1.2"/>
<line x1="619.2" y1="105.2" x2="670" y2="97" stroke="#c47f86" stroke-width="0.8" stroke-dasharray="1.4,1.2"/>
<line x1="619.2" y1="105.2" x2="647" y2="111" stroke="#c47f86" stroke-width="0.8" stroke-dasharray="1.4,1.2"/>
<line x1="619.2" y1="105.2" x2="638.5" y2="140.5" stroke="#c47f86" stroke-width="0.8" stroke-dasharray="1.4,1.2"/>
<line x1="619.2" y1="105.2" x2="612" y2="132" stroke="#c47f86" stroke-width="0.8" stroke-dasharray="1.4,1.2"/>
<path d="M486.6,94.9 H491.8 M500.8,97.6 L510.5,103.2 L519.3,97.9 M509.4,103.2 V110.2 M511.7,103.2 V110.2 M527.6,97.2 L536.9,101.3 M536.9,101.3 L549.3,93.2 L561.9,100.9 L561.9,114.6 L550,121.9 L536.9,114.6 Z M539.6,102.3 L549.4,96.0 M559.4,102.5 V113.0 M549.9,119.1 L539.5,113.2 M561.9,114.6 L576.4,121.9 L589.6,113.9 L589.6,104.6 M589.6,113.9 L600,118.3 L608.2,128.2 M593.6,96.6 L602.7,91 L609.3,77.7 L620.3,77.7 M628.9,82.2 L636.8,91 L646.7,97.5 L646.9,107.2 M642.6,115.6 L634.4,120.8 L627.7,132.7 L616.2,132.7 M585.4,96.6 L575.9,91.3 L575.9,77.3 L583.2,72.6 M575.9,77.3 L566.6,72.2 M574.8,79.3 L565.5,74.2 M626.6,72.2 L631.3,64.6 L624.5,51.0 L628.3,44.2 M624.7,50.2 H615 M624.7,52.8 H615 M651.8,114 L661,117.7 L673.3,111 L683.6,116 M672.1,111 V100.6 M674.5,111 V100.6 M612.7,138.3 L615.2,146.7 L630.6,147.7 L631.7,156.2 M630.0,146.8 L637.0,140.8 M631.6,148.7 L638.6,142.6" stroke="#141414" stroke-width="1.45" fill="none" stroke-linecap="round" stroke-linejoin="round"/>
<text x="496.3" y="99.1" font-family="Liberation Sans, sans-serif" font-size="10.2" text-anchor="middle" fill="#141414" stroke="#141414" stroke-width="0.2">N</text>
<text x="496.3" y="90.0" font-family="Liberation Sans, sans-serif" font-size="10.2" text-anchor="middle" fill="#141414" stroke="#141414" stroke-width="0.2">H</text>
<text x="523.2" y="98.5" font-family="Liberation Sans, sans-serif" font-size="10.2" text-anchor="middle" fill="#141414" stroke="#141414" stroke-width="0.2">N</text>
<text x="523.2" y="89.5" font-family="Liberation Sans, sans-serif" font-size="10.2" text-anchor="middle" fill="#141414" stroke="#141414" stroke-width="0.2">H</text>
<text x="510.5" y="121.5" font-family="Liberation Sans, sans-serif" font-size="10.2" text-anchor="middle" fill="#141414" stroke="#141414" stroke-width="0.2">S</text>
<text x="589.6" y="103.5" font-family="Liberation Sans, sans-serif" font-size="10.2" text-anchor="middle" fill="#141414" stroke="#141414" stroke-width="0.2">N</text>
<text x="624.7" y="81.4" font-family="Liberation Sans, sans-serif" font-size="10.2" text-anchor="middle" fill="#141414" stroke="#141414" stroke-width="0.2">N</text>
<text x="647.2" y="115.7" font-family="Liberation Sans, sans-serif" font-size="10.2" text-anchor="middle" fill="#141414" stroke="#141414" stroke-width="0.2">N</text>
<text x="611.5" y="137.0" font-family="Liberation Sans, sans-serif" font-size="10.2" text-anchor="middle" fill="#141414" stroke="#141414" stroke-width="0.2">N</text>
<text x="562" y="74.0" font-family="Liberation Sans, sans-serif" font-size="10.2" text-anchor="middle" fill="#141414" stroke="#141414" stroke-width="0.2">O</text>
<text x="589.9" y="73.0" font-family="Liberation Sans, sans-serif" font-size="10.2" text-anchor="middle" fill="#141414" stroke="#141414" stroke-width="0.2">OH</text>
<text x="608.4" y="56.3" font-family="Liberation Sans, sans-serif" font-size="10.2" text-anchor="middle" fill="#141414" stroke="#141414" stroke-width="0.2">O</text>
<text x="635" y="42.5" font-family="Liberation Sans, sans-serif" font-size="10.2" text-anchor="middle" fill="#141414" stroke="#141414" stroke-width="0.2">OH</text>
<text x="673.3" y="99.5" font-family="Liberation Sans, sans-serif" font-size="10.2" text-anchor="middle" fill="#141414" stroke="#141414" stroke-width="0.2">O</text>
<text x="690.6" y="121.3" font-family="Liberation Sans, sans-serif" font-size="10.2" text-anchor="middle" fill="#141414" stroke="#141414" stroke-width="0.2">OH</text>
<text x="641" y="141.9" font-family="Liberation Sans, sans-serif" font-size="10.2" text-anchor="middle" fill="#141414" stroke="#141414" stroke-width="0.2">O</text>
<text x="631.3" y="169.1" font-family="Liberation Sans, sans-serif" font-size="10.2" text-anchor="middle" fill="#141414" stroke="#141414" stroke-width="0.2" transform="rotate(-42 631.3 165.4)">HO</text>
<circle cx="633.9" cy="106.4" r="2.3" fill="#5a9e98"/>
<circle cx="632.9" cy="110.5" r="2.3" fill="#7fa2b4"/>
<circle cx="630.8" cy="114.1" r="2.3" fill="#69a8a0"/>
<circle cx="627.7" cy="117.0" r="2.3" fill="#94aebc"/>
<circle cx="624.0" cy="118.9" r="2.3" fill="#b8a49c"/>
<circle cx="619.8" cy="119.7" r="2.3" fill="#5fa59b"/>
<circle cx="615.6" cy="119.3" r="2.3" fill="#86a6b2"/>
<circle cx="611.7" cy="117.7" r="2.3" fill="#5a9e98"/>
<circle cx="608.4" cy="115.1" r="2.3" fill="#7fa2b4"/>
<circle cx="606.0" cy="111.6" r="2.3" fill="#69a8a0"/>
<circle cx="604.7" cy="107.6" r="2.3" fill="#94aebc"/>
<circle cx="604.5" cy="103.4" r="2.3" fill="#b8a49c"/>
<circle cx="605.5" cy="99.3" r="2.3" fill="#5fa59b"/>
<circle cx="607.6" cy="95.7" r="2.3" fill="#86a6b2"/>
<circle cx="610.7" cy="92.8" r="2.3" fill="#5a9e98"/>
<circle cx="614.4" cy="90.9" r="2.3" fill="#7fa2b4"/>
<circle cx="618.6" cy="90.1" r="2.3" fill="#69a8a0"/>
<circle cx="622.8" cy="90.5" r="2.3" fill="#94aebc"/>
<circle cx="626.7" cy="92.1" r="2.3" fill="#b8a49c"/>
<circle cx="630.0" cy="94.7" r="2.3" fill="#5fa59b"/>
<circle cx="632.4" cy="98.2" r="2.3" fill="#86a6b2"/>
<circle cx="633.7" cy="102.2" r="2.3" fill="#5a9e98"/>
<circle cx="619.2" cy="104.9" r="14.0" fill="#e1e6ea" stroke="#3aa592" stroke-width="1.4"/>
<circle cx="625.4" cy="107.2" r="1.4" fill="#e2e0ee"/>
<circle cx="614.5" cy="115.5" r="1.4" fill="#c9dcea"/>
<circle cx="607.6" cy="102.8" r="1.4" fill="#cfe6e6"/>
<circle cx="621.2" cy="96.8" r="1.4" fill="#e8f2f8"/>
<circle cx="622.0" cy="110.6" r="1.4" fill="#e2e0ee"/>
<circle cx="617.1" cy="101.6" r="1.4" fill="#cfe6e6"/>
<circle cx="615.3" cy="105.4" r="1.4" fill="#e8f2f8"/>
<circle cx="611.2" cy="109.3" r="1.4" fill="#cfe6e6"/>
<circle cx="626.3" cy="104.7" r="1.4" fill="#e8f2f8"/>
<circle cx="626.0" cy="100.8" r="1.4" fill="#cfe6e6"/>
<circle cx="612.1" cy="112.3" r="1.4" fill="#e2e0ee"/>
<circle cx="626.0" cy="101.1" r="1.4" fill="#cfe6e6"/>
<circle cx="615.4" cy="115.2" r="1.4" fill="#e8f2f8"/>
<circle cx="614.5" cy="102.8" r="1.4" fill="#cfe6e6"/>
<circle cx="630.5" cy="102.3" r="1.4" fill="#c9dcea"/>
<circle cx="612.0" cy="95.5" r="1.4" fill="#cfe6e6"/>
<circle cx="630.2" cy="105.5" r="1.4" fill="#c9dcea"/>
<circle cx="611.5" cy="105.8" r="1.4" fill="#c9dcea"/>
<circle cx="620.9" cy="101.5" r="1.4" fill="#e8f2f8"/>
<circle cx="609.6" cy="105.2" r="1.4" fill="#cfe6e6"/>
<circle cx="627.1" cy="110.5" r="1.4" fill="#e8f2f8"/>
<circle cx="615.6" cy="105.1" r="1.4" fill="#c9dcea"/>
<circle cx="614.1" cy="108.7" r="1.4" fill="#e2e0ee"/>
<circle cx="620.1" cy="99.9" r="1.4" fill="#e2e0ee"/>
<circle cx="629.4" cy="105.8" r="1.4" fill="#e8f2f8"/>
<circle cx="614.9" cy="106.4" r="1.4" fill="#c9dcea"/>
<circle cx="626.2" cy="111.6" r="1.4" fill="#cfe6e6"/>
<circle cx="611.1" cy="106.6" r="1.4" fill="#e8f2f8"/>
<circle cx="618.4" cy="93.9" r="1.4" fill="#e2e0ee"/>
<circle cx="621.9" cy="107.0" r="1.4" fill="#c9dcea"/>
<circle cx="620.2" cy="97.6" r="1.4" fill="#cfe6e6"/>
<circle cx="629.8" cy="109.0" r="1.4" fill="#e2e0ee"/>
<circle cx="621.0" cy="100.0" r="1.4" fill="#c9dcea"/>
<circle cx="623.7" cy="110.0" r="1.4" fill="#e8f2f8"/>
<circle cx="623.0" cy="108.7" r="1.4" fill="#e8f2f8"/>
<circle cx="613.1" cy="107.7" r="1.4" fill="#e8f2f8"/>
<circle cx="613.2" cy="102.2" r="1.4" fill="#e8f2f8"/>
<circle cx="619.0" cy="103.1" r="1.4" fill="#e8f2f8"/>
<circle cx="623.9" cy="112.6" r="1.4" fill="#e8f2f8"/>
<circle cx="611.8" cy="101.4" r="1.4" fill="#e2e0ee"/>
<text x="618.8000000000001" y="109.0" font-family="Liberation Sans, sans-serif" font-weight="bold" text-anchor="middle" fill="#0a0a0a" font-size="11.8"><tspan font-size="8.2" dy="-3.7">225</tspan><tspan dy="3.7">Ac</tspan></text>
</g>
<text x="642.0" y="17.3" font-family="Liberation Sans, sans-serif" font-size="14.4" font-weight="normal" text-anchor="start" fill="#222" >α emission</text>
<text x="620.2" y="198.8" font-family="Liberation Sans, sans-serif" font-size="14.4" font-weight="normal" text-anchor="middle" fill="#222" >Recoiling</text>
<text x="622" y="215.4" font-family="Liberation Sans, sans-serif" font-size="14.4" font-weight="normal" text-anchor="middle" fill="#222" >energy effect</text>
<path d="M659.8,181.5 C677,190 685.5,212 675.3,232.2 L680.2,235.6 L656.2,243.6 L659.6,224.6 L664.6,227.6 C671,212 669,195 659.8,181.5Z" fill="url(#pink)"/>
<g transform="translate(1,194)">
<g filter="url(#b1)">
<circle cx="619.2" cy="105.2" r="23" fill="#c2e0f4" filter="url(#b2)"/>
<path d="M619.2,105.2 L566,73 L589,101Z" fill="#c2e0f4" stroke="#c2e0f4" stroke-width="3" stroke-linejoin="round"/>
<path d="M619.2,105.2 L609,56 L626,77Z" fill="#c2e0f4" stroke="#c2e0f4" stroke-width="3" stroke-linejoin="round"/>
<path d="M619.2,105.2 L672,96 L649,113Z" fill="#c2e0f4" stroke="#c2e0f4" stroke-width="3" stroke-linejoin="round"/>
<path d="M619.2,105.2 L640,141 L611,134Z" fill="#c2e0f4" stroke="#c2e0f4" stroke-width="3" stroke-linejoin="round"/>
<circle cx="619.2" cy="105.2" r="18" fill="#bcdcf2"/>
</g>
<line x1="619.2" y1="105.2" x2="566" y2="73.5" stroke="#c47f86" stroke-width="0.8" stroke-dasharray="1.4,1.2"/>
<line x1="619.2" y1="105.2" x2="590.5" y2="100" stroke="#c47f86" stroke-width="0.8" stroke-dasharray="1.4,1.2"/>
<line x1="619.2" y1="105.2" x2="610" y2="57" stroke="#c47f86" stroke-width="0.8" stroke-dasharray="1.4,1.2"/>
<line x1="619.2" y1="105.2" x2="625" y2="79" stroke="#c47f86" stroke-width="0.8" stroke-dasharray="1.4,1.2"/>
<line x1="619.2" y1="105.2" x2="670" y2="97" stroke="#c47f86" stroke-width="0.8" stroke-dasharray="1.4,1.2"/>
<line x1="619.2" y1="105.2" x2="647" y2="111" stroke="#c47f86" stroke-width="0.8" stroke-dasharray="1.4,1.2"/>
<line x1="619.2" y1="105.2" x2="638.5" y2="140.5" stroke="#c47f86" stroke-width="0.8" stroke-dasharray="1.4,1.2"/>
<line x1="619.2" y1="105.2" x2="612" y2="132" stroke="#c47f86" stroke-width="0.8" stroke-dasharray="1.4,1.2"/>
<path d="M486.6,94.9 H491.8 M500.8,97.6 L510.5,103.2 L519.3,97.9 M509.4,103.2 V110.2 M511.7,103.2 V110.2 M527.6,97.2 L536.9,101.3 M536.9,101.3 L549.3,93.2 L561.9,100.9 L561.9,114.6 L550,121.9 L536.9,114.6 Z M539.6,102.3 L549.4,96.0 M559.4,102.5 V113.0 M549.9,119.1 L539.5,113.2 M561.9,114.6 L576.4,121.9 L589.6,113.9 L589.6,104.6 M589.6,113.9 L600,118.3 L608.2,128.2 M593.6,96.6 L602.7,91 L609.3,77.7 L620.3,77.7 M628.9,82.2 L636.8,91 L646.7,97.5 L646.9,107.2 M642.6,115.6 L634.4,120.8 L627.7,132.7 L616.2,132.7 M585.4,96.6 L575.9,91.3 L575.9,77.3 L583.2,72.6 M575.9,77.3 L566.6,72.2 M574.8,79.3 L565.5,74.2 M626.6,72.2 L631.3,64.6 L624.5,51.0 L628.3,44.2 M624.7,50.2 H615 M624.7,52.8 H615 M651.8,114 L661,117.7 L673.3,111 L683.6,116 M672.1,111 V100.6 M674.5,111 V100.6 M612.7,138.3 L615.2,146.7 L630.6,147.7 L631.7,156.2 M630.0,146.8 L637.0,140.8 M631.6,148.7 L638.6,142.6" stroke="#141414" stroke-width="1.45" fill="none" stroke-linecap="round" stroke-linejoin="round"/>
<text x="496.3" y="99.1" font-family="Liberation Sans, sans-serif" font-size="10.2" text-anchor="middle" fill="#141414" stroke="#141414" stroke-width="0.2">N</text>
<text x="496.3" y="90.0" font-family="Liberation Sans, sans-serif" font-size="10.2" text-anchor="middle" fill="#141414" stroke="#141414" stroke-width="0.2">H</text>
<text x="523.2" y="98.5" font-family="Liberation Sans, sans-serif" font-size="10.2" text-anchor="middle" fill="#141414" stroke="#141414" stroke-width="0.2">N</text>
<text x="523.2" y="89.5" font-family="Liberation Sans, sans-serif" font-size="10.2" text-anchor="middle" fill="#141414" stroke="#141414" stroke-width="0.2">H</text>
<text x="510.5" y="121.5" font-family="Liberation Sans, sans-serif" font-size="10.2" text-anchor="middle" fill="#141414" stroke="#141414" stroke-width="0.2">S</text>
<text x="589.6" y="103.5" font-family="Liberation Sans, sans-serif" font-size="10.2" text-anchor="middle" fill="#141414" stroke="#141414" stroke-width="0.2">N</text>
<text x="624.7" y="81.4" font-family="Liberation Sans, sans-serif" font-size="10.2" text-anchor="middle" fill="#141414" stroke="#141414" stroke-width="0.2">N</text>
<text x="647.2" y="115.7" font-family="Liberation Sans, sans-serif" font-size="10.2" text-anchor="middle" fill="#141414" stroke="#141414" stroke-width="0.2">N</text>
<text x="611.5" y="137.0" font-family="Liberation Sans, sans-serif" font-size="10.2" text-anchor="middle" fill="#141414" stroke="#141414" stroke-width="0.2">N</text>
<text x="562" y="74.0" font-family="Liberation Sans, sans-serif" font-size="10.2" text-anchor="middle" fill="#141414" stroke="#141414" stroke-width="0.2">O</text>
<text x="589.9" y="73.0" font-family="Liberation Sans, sans-serif" font-size="10.2" text-anchor="middle" fill="#141414" stroke="#141414" stroke-width="0.2">OH</text>
<text x="608.4" y="56.3" font-family="Liberation Sans, sans-serif" font-size="10.2" text-anchor="middle" fill="#141414" stroke="#141414" stroke-width="0.2">O</text>
<text x="635" y="42.5" font-family="Liberation Sans, sans-serif" font-size="10.2" text-anchor="middle" fill="#141414" stroke="#141414" stroke-width="0.2">OH</text>
<text x="673.3" y="99.5" font-family="Liberation Sans, sans-serif" font-size="10.2" text-anchor="middle" fill="#141414" stroke="#141414" stroke-width="0.2">O</text>
<text x="690.6" y="121.3" font-family="Liberation Sans, sans-serif" font-size="10.2" text-anchor="middle" fill="#141414" stroke="#141414" stroke-width="0.2">OH</text>
<text x="641" y="141.9" font-family="Liberation Sans, sans-serif" font-size="10.2" text-anchor="middle" fill="#141414" stroke="#141414" stroke-width="0.2">O</text>
<text x="631.3" y="169.1" font-family="Liberation Sans, sans-serif" font-size="10.2" text-anchor="middle" fill="#141414" stroke="#141414" stroke-width="0.2" transform="rotate(-42 631.3 165.4)">HO</text>
</g>
<circle cx="619.8" cy="297.8" r="11.6" fill="#fff" filter="url(#b1)"/>
<path d="M608,300.3 L546.5,349.8 Q552,388 580.5,381.5 L619.6,306.2 Q612,307.5 608,300.3Z" fill="url(#gbeam)"/>
<circle cx="574.4" cy="371.5" r="2.9" fill="#5a9e98"/>
<circle cx="573.1" cy="376.6" r="2.9" fill="#7fa2b4"/>
<circle cx="570.4" cy="381.2" r="2.9" fill="#69a8a0"/>
<circle cx="566.6" cy="384.8" r="2.9" fill="#94aebc"/>
<circle cx="561.9" cy="387.2" r="2.9" fill="#b8a49c"/>
<circle cx="556.8" cy="388.1" r="2.9" fill="#5fa59b"/>
<circle cx="551.6" cy="387.6" r="2.9" fill="#86a6b2"/>
<circle cx="546.7" cy="385.6" r="2.9" fill="#5a9e98"/>
<circle cx="542.6" cy="382.4" r="2.9" fill="#7fa2b4"/>
<circle cx="539.6" cy="378.1" r="2.9" fill="#69a8a0"/>
<circle cx="537.9" cy="373.1" r="2.9" fill="#94aebc"/>
<circle cx="537.6" cy="367.9" r="2.9" fill="#b8a49c"/>
<circle cx="538.9" cy="362.8" r="2.9" fill="#5fa59b"/>
<circle cx="541.6" cy="358.2" r="2.9" fill="#86a6b2"/>
<circle cx="545.4" cy="354.6" r="2.9" fill="#5a9e98"/>
<circle cx="550.1" cy="352.2" r="2.9" fill="#7fa2b4"/>
<circle cx="555.2" cy="351.3" r="2.9" fill="#69a8a0"/>
<circle cx="560.4" cy="351.8" r="2.9" fill="#94aebc"/>
<circle cx="565.3" cy="353.8" r="2.9" fill="#b8a49c"/>
<circle cx="569.4" cy="357.0" r="2.9" fill="#5fa59b"/>
<circle cx="572.4" cy="361.3" r="2.9" fill="#86a6b2"/>
<circle cx="574.1" cy="366.3" r="2.9" fill="#5a9e98"/>
<circle cx="556" cy="369.7" r="17.5" fill="#dbe9f1" stroke="#3aa592" stroke-width="1.7"/>
<circle cx="562.9" cy="368.4" r="1.8" fill="#cfe6e6"/>
<circle cx="545.0" cy="373.0" r="1.8" fill="#cfe6e6"/>
<circle cx="555.9" cy="358.0" r="1.8" fill="#e8f2f8"/>
<circle cx="558.1" cy="375.7" r="1.8" fill="#cfe6e6"/>
<circle cx="542.9" cy="370.6" r="1.8" fill="#e8f2f8"/>
<circle cx="552.7" cy="366.5" r="1.8" fill="#cfe6e6"/>
<circle cx="551.3" cy="355.9" r="1.8" fill="#e8f2f8"/>
<circle cx="561.3" cy="363.6" r="1.8" fill="#cfe6e6"/>
<circle cx="547.4" cy="366.4" r="1.8" fill="#e2e0ee"/>
<circle cx="566.3" cy="370.7" r="1.8" fill="#cfe6e6"/>
<circle cx="545.1" cy="363.0" r="1.8" fill="#e2e0ee"/>
<circle cx="566.2" cy="364.2" r="1.8" fill="#cfe6e6"/>
<circle cx="563.3" cy="374.0" r="1.8" fill="#cfe6e6"/>
<circle cx="564.2" cy="380.7" r="1.8" fill="#c9dcea"/>
<circle cx="549.0" cy="380.4" r="1.8" fill="#cfe6e6"/>
<circle cx="565.6" cy="371.4" r="1.8" fill="#c9dcea"/>
<circle cx="565.7" cy="378.4" r="1.8" fill="#e2e0ee"/>
<circle cx="558.4" cy="355.1" r="1.8" fill="#cfe6e6"/>
<circle cx="552.3" cy="375.1" r="1.8" fill="#c9dcea"/>
<circle cx="558.2" cy="381.0" r="1.8" fill="#e8f2f8"/>
<circle cx="567.2" cy="365.6" r="1.8" fill="#e8f2f8"/>
<circle cx="555.6" cy="361.0" r="1.8" fill="#cfe6e6"/>
<circle cx="545.5" cy="377.4" r="1.8" fill="#e2e0ee"/>
<circle cx="541.5" cy="371.4" r="1.8" fill="#c9dcea"/>
<circle cx="558.8" cy="372.7" r="1.8" fill="#e8f2f8"/>
<circle cx="550.9" cy="374.1" r="1.8" fill="#e8f2f8"/>
<circle cx="560.1" cy="371.7" r="1.8" fill="#cfe6e6"/>
<circle cx="544.2" cy="366.4" r="1.8" fill="#cfe6e6"/>
<circle cx="565.7" cy="377.3" r="1.8" fill="#c9dcea"/>
<circle cx="542.8" cy="374.9" r="1.8" fill="#cfe6e6"/>
<circle cx="564.9" cy="361.4" r="1.8" fill="#e2e0ee"/>
<circle cx="562.9" cy="365.3" r="1.8" fill="#e2e0ee"/>
<circle cx="564.4" cy="368.2" r="1.8" fill="#c9dcea"/>
<circle cx="558.3" cy="360.0" r="1.8" fill="#cfe6e6"/>
<circle cx="550.7" cy="361.3" r="1.8" fill="#c9dcea"/>
<circle cx="545.8" cy="374.5" r="1.8" fill="#cfe6e6"/>
<circle cx="557.8" cy="357.0" r="1.8" fill="#cfe6e6"/>
<circle cx="545.7" cy="370.4" r="1.8" fill="#e2e0ee"/>
<circle cx="551.5" cy="356.3" r="1.8" fill="#c9dcea"/>
<circle cx="562.9" cy="382.7" r="1.8" fill="#cfe6e6"/>
<text x="555.6" y="374.7" font-family="Liberation Sans, sans-serif" font-weight="bold" text-anchor="middle" fill="#0a0a0a" font-size="14.4"><tspan font-size="10.2" dy="-4.5">221</tspan><tspan dy="4.5">Fr</tspan></text>
<circle cx="506.6" cy="371.5" r="2.9" fill="#5a9e98"/>
<circle cx="505.3" cy="376.6" r="2.9" fill="#7fa2b4"/>
<circle cx="502.6" cy="381.2" r="2.9" fill="#69a8a0"/>
<circle cx="498.8" cy="384.8" r="2.9" fill="#94aebc"/>
<circle cx="494.1" cy="387.2" r="2.9" fill="#b8a49c"/>
<circle cx="489.0" cy="388.1" r="2.9" fill="#5fa59b"/>
<circle cx="483.8" cy="387.6" r="2.9" fill="#86a6b2"/>
<circle cx="478.9" cy="385.6" r="2.9" fill="#5a9e98"/>
<circle cx="474.8" cy="382.4" r="2.9" fill="#7fa2b4"/>
<circle cx="471.8" cy="378.1" r="2.9" fill="#69a8a0"/>
<circle cx="470.1" cy="373.1" r="2.9" fill="#94aebc"/>
<circle cx="469.8" cy="367.9" r="2.9" fill="#b8a49c"/>
<circle cx="471.1" cy="362.8" r="2.9" fill="#5fa59b"/>
<circle cx="473.8" cy="358.2" r="2.9" fill="#86a6b2"/>
<circle cx="477.6" cy="354.6" r="2.9" fill="#5a9e98"/>
<circle cx="482.3" cy="352.2" r="2.9" fill="#7fa2b4"/>
<circle cx="487.4" cy="351.3" r="2.9" fill="#69a8a0"/>
<circle cx="492.6" cy="351.8" r="2.9" fill="#94aebc"/>
<circle cx="497.5" cy="353.8" r="2.9" fill="#b8a49c"/>
<circle cx="501.6" cy="357.0" r="2.9" fill="#5fa59b"/>
<circle cx="504.6" cy="361.3" r="2.9" fill="#86a6b2"/>
<circle cx="506.3" cy="366.3" r="2.9" fill="#5a9e98"/>
<circle cx="488.2" cy="369.7" r="17.5" fill="#dbe9f1" stroke="#3aa592" stroke-width="1.7"/>
<circle cx="484.2" cy="360.3" r="1.8" fill="#e2e0ee"/>
<circle cx="485.1" cy="382.6" r="1.8" fill="#c9dcea"/>
<circle cx="481.1" cy="362.9" r="1.8" fill="#cfe6e6"/>
<circle cx="477.6" cy="364.0" r="1.8" fill="#cfe6e6"/>
<circle cx="500.3" cy="373.1" r="1.8" fill="#e8f2f8"/>
<circle cx="476.4" cy="377.9" r="1.8" fill="#c9dcea"/>
<circle cx="493.4" cy="356.6" r="1.8" fill="#e8f2f8"/>
<circle cx="496.2" cy="369.3" r="1.8" fill="#e2e0ee"/>
<circle cx="477.4" cy="375.1" r="1.8" fill="#c9dcea"/>
<circle cx="488.9" cy="371.9" r="1.8" fill="#c9dcea"/>
<circle cx="480.4" cy="377.1" r="1.8" fill="#c9dcea"/>
<circle cx="483.6" cy="358.6" r="1.8" fill="#c9dcea"/>
<circle cx="488.2" cy="373.8" r="1.8" fill="#c9dcea"/>
<circle cx="490.0" cy="369.8" r="1.8" fill="#e2e0ee"/>
<circle cx="486.8" cy="369.2" r="1.8" fill="#e2e0ee"/>
<circle cx="481.2" cy="378.1" r="1.8" fill="#e2e0ee"/>
<circle cx="478.9" cy="363.8" r="1.8" fill="#e2e0ee"/>
<circle cx="490.6" cy="378.8" r="1.8" fill="#cfe6e6"/>
<circle cx="496.6" cy="360.7" r="1.8" fill="#cfe6e6"/>
<circle cx="482.8" cy="379.3" r="1.8" fill="#e8f2f8"/>
<circle cx="476.0" cy="370.2" r="1.8" fill="#c9dcea"/>
<circle cx="479.1" cy="368.0" r="1.8" fill="#c9dcea"/>
<circle cx="494.8" cy="375.5" r="1.8" fill="#cfe6e6"/>
<circle cx="484.3" cy="364.7" r="1.8" fill="#e2e0ee"/>
<circle cx="485.6" cy="375.4" r="1.8" fill="#c9dcea"/>
<circle cx="488.2" cy="363.8" r="1.8" fill="#e8f2f8"/>
<circle cx="491.4" cy="375.5" r="1.8" fill="#e8f2f8"/>
<circle cx="484.4" cy="358.8" r="1.8" fill="#cfe6e6"/>
<circle cx="495.8" cy="368.4" r="1.8" fill="#c9dcea"/>
<circle cx="502.7" cy="370.7" r="1.8" fill="#c9dcea"/>
<circle cx="497.8" cy="379.0" r="1.8" fill="#cfe6e6"/>
<circle cx="482.4" cy="374.0" r="1.8" fill="#e2e0ee"/>
<circle cx="486.6" cy="359.9" r="1.8" fill="#c9dcea"/>
<circle cx="496.8" cy="378.9" r="1.8" fill="#cfe6e6"/>
<circle cx="479.2" cy="377.1" r="1.8" fill="#cfe6e6"/>
<circle cx="501.0" cy="368.5" r="1.8" fill="#e2e0ee"/>
<circle cx="483.0" cy="360.9" r="1.8" fill="#cfe6e6"/>
<circle cx="484.1" cy="375.4" r="1.8" fill="#c9dcea"/>
<circle cx="497.2" cy="360.8" r="1.8" fill="#e2e0ee"/>
<circle cx="490.4" cy="370.7" r="1.8" fill="#cfe6e6"/>
<text x="487.8" y="374.7" font-family="Liberation Sans, sans-serif" font-weight="bold" text-anchor="middle" fill="#0a0a0a" font-size="14.4"><tspan font-size="10.2" dy="-4.5">217</tspan><tspan dy="4.5">At</tspan></text>
<circle cx="438.5" cy="372.0" r="2.9" fill="#5a9e98"/>
<circle cx="437.2" cy="377.1" r="2.9" fill="#7fa2b4"/>
<circle cx="434.5" cy="381.7" r="2.9" fill="#69a8a0"/>
<circle cx="430.7" cy="385.3" r="2.9" fill="#94aebc"/>
<circle cx="426.0" cy="387.7" r="2.9" fill="#b8a49c"/>
<circle cx="420.9" cy="388.6" r="2.9" fill="#5fa59b"/>
<circle cx="415.7" cy="388.1" r="2.9" fill="#86a6b2"/>
<circle cx="410.8" cy="386.1" r="2.9" fill="#5a9e98"/>
<circle cx="406.7" cy="382.9" r="2.9" fill="#7fa2b4"/>
<circle cx="403.7" cy="378.6" r="2.9" fill="#69a8a0"/>
<circle cx="402.0" cy="373.6" r="2.9" fill="#94aebc"/>
<circle cx="401.7" cy="368.4" r="2.9" fill="#b8a49c"/>
<circle cx="403.0" cy="363.3" r="2.9" fill="#5fa59b"/>
<circle cx="405.7" cy="358.7" r="2.9" fill="#86a6b2"/>
<circle cx="409.5" cy="355.1" r="2.9" fill="#5a9e98"/>
<circle cx="414.2" cy="352.7" r="2.9" fill="#7fa2b4"/>
<circle cx="419.3" cy="351.8" r="2.9" fill="#69a8a0"/>
<circle cx="424.5" cy="352.3" r="2.9" fill="#94aebc"/>
<circle cx="429.4" cy="354.3" r="2.9" fill="#b8a49c"/>
<circle cx="433.5" cy="357.5" r="2.9" fill="#5fa59b"/>
<circle cx="436.5" cy="361.8" r="2.9" fill="#86a6b2"/>
<circle cx="438.2" cy="366.8" r="2.9" fill="#5a9e98"/>
<circle cx="420.1" cy="370.2" r="17.5" fill="#dbe9f1" stroke="#3aa592" stroke-width="1.7"/>
<circle cx="411.6" cy="381.3" r="1.8" fill="#cfe6e6"/>
<circle cx="413.0" cy="382.6" r="1.8" fill="#e2e0ee"/>
<circle cx="428.6" cy="381.2" r="1.8" fill="#cfe6e6"/>
<circle cx="410.0" cy="367.7" r="1.8" fill="#e8f2f8"/>
<circle cx="421.4" cy="355.7" r="1.8" fill="#e8f2f8"/>
<circle cx="408.9" cy="365.3" r="1.8" fill="#e8f2f8"/>
<circle cx="416.6" cy="383.5" r="1.8" fill="#cfe6e6"/>
<circle cx="416.0" cy="380.4" r="1.8" fill="#cfe6e6"/>
<circle cx="417.0" cy="370.2" r="1.8" fill="#e2e0ee"/>
<circle cx="419.0" cy="358.4" r="1.8" fill="#c9dcea"/>
<circle cx="414.2" cy="378.8" r="1.8" fill="#e8f2f8"/>
<circle cx="414.4" cy="377.3" r="1.8" fill="#e2e0ee"/>
<circle cx="421.6" cy="356.9" r="1.8" fill="#e8f2f8"/>
<circle cx="419.0" cy="361.1" r="1.8" fill="#e2e0ee"/>
<circle cx="419.9" cy="376.6" r="1.8" fill="#e8f2f8"/>
<circle cx="420.5" cy="382.9" r="1.8" fill="#e8f2f8"/>
<circle cx="432.6" cy="371.6" r="1.8" fill="#e2e0ee"/>
<circle cx="425.3" cy="368.5" r="1.8" fill="#e2e0ee"/>
<circle cx="427.7" cy="370.1" r="1.8" fill="#cfe6e6"/>
<circle cx="434.6" cy="369.5" r="1.8" fill="#e2e0ee"/>
<circle cx="416.9" cy="358.1" r="1.8" fill="#c9dcea"/>
<circle cx="407.6" cy="369.9" r="1.8" fill="#e2e0ee"/>
<circle cx="432.0" cy="362.2" r="1.8" fill="#e2e0ee"/>
<circle cx="420.2" cy="380.3" r="1.8" fill="#c9dcea"/>
<circle cx="420.6" cy="361.8" r="1.8" fill="#c9dcea"/>
<circle cx="416.5" cy="358.5" r="1.8" fill="#cfe6e6"/>
<circle cx="428.8" cy="370.5" r="1.8" fill="#e8f2f8"/>
<circle cx="413.7" cy="382.0" r="1.8" fill="#e2e0ee"/>
<circle cx="434.7" cy="369.3" r="1.8" fill="#cfe6e6"/>
<circle cx="415.9" cy="356.3" r="1.8" fill="#cfe6e6"/>
<circle cx="419.2" cy="363.2" r="1.8" fill="#e8f2f8"/>
<circle cx="415.7" cy="367.8" r="1.8" fill="#c9dcea"/>
<circle cx="409.5" cy="362.1" r="1.8" fill="#e8f2f8"/>
<circle cx="434.2" cy="370.9" r="1.8" fill="#cfe6e6"/>
<circle cx="433.2" cy="364.9" r="1.8" fill="#e2e0ee"/>
<circle cx="419.1" cy="365.9" r="1.8" fill="#c9dcea"/>
<circle cx="423.3" cy="373.1" r="1.8" fill="#e2e0ee"/>
<circle cx="405.8" cy="371.6" r="1.8" fill="#e2e0ee"/>
<circle cx="409.6" cy="360.9" r="1.8" fill="#e8f2f8"/>
<circle cx="414.6" cy="376.7" r="1.8" fill="#e2e0ee"/>
<text x="419.70000000000005" y="375.2" font-family="Liberation Sans, sans-serif" font-weight="bold" text-anchor="middle" fill="#0a0a0a" font-size="14.4"><tspan font-size="10.2" dy="-4.5">213</tspan><tspan dy="4.5">Bi</tspan></text>
<line x1="532.5" y1="369.4" x2="517.5" y2="369.4" stroke="#c9a79a" stroke-width="2.2"/>
<path d="M513.0,369.4 L520.5,364.79999999999995 L518.9,369.4 L520.5,374.0Z" fill="#c9a79a"/>
<line x1="465" y1="369.4" x2="450" y2="369.4" stroke="#c9a79a" stroke-width="2.2"/>
<path d="M445.5,369.4 L453,364.79999999999995 L451.4,369.4 L453,374.0Z" fill="#c9a79a"/>
<g transform="translate(503.1,387.6) rotate(16.6)">
<path d="M0,0 L26.0,-9.0 L26.0,9.0Z" fill="#fbae52" opacity="0.7" filter="url(#b2)"/>
<path d="M0,0 L26.0,-5.0 L26.0,5.0Z" fill="url(#beam)" filter="url(#b05)"/>
</g>
<circle cx="531.7" cy="393.3" r="2.4" fill="url(#sph4)"/>
<circle cx="534.3" cy="396.3" r="2.4" fill="url(#sph3)"/>
<circle cx="531.4" cy="398.9" r="2.4" fill="url(#sph4)"/>
<circle cx="528.5" cy="395.4" r="2.4" fill="url(#sph3)"/>
<g transform="translate(576.8,386.2) rotate(16.4)">
<path d="M0,0 L26.3,-9.0 L26.3,9.0Z" fill="#fbae52" opacity="0.7" filter="url(#b2)"/>
<path d="M0,0 L26.3,-5.0 L26.3,5.0Z" fill="url(#beam)" filter="url(#b05)"/>
</g>
<circle cx="606.3" cy="391.9" r="2.4" fill="url(#sph4)"/>
<circle cx="608.9" cy="394.9" r="2.4" fill="url(#sph3)"/>
<circle cx="606.0" cy="397.5" r="2.4" fill="url(#sph4)"/>
<circle cx="603.1" cy="394.0" r="2.4" fill="url(#sph3)"/>
<text x="520.2" y="420" font-family="Liberation Sans, sans-serif" font-size="14.4" font-weight="normal" text-anchor="start" fill="#222" >α emission</text>
<rect x="20.6" y="225" width="179.6" height="165" fill="none" stroke="#1c1c1c" stroke-width="1.6" stroke-dasharray="6.2,4.3"/>
<path d="M29.5,300 C29,280 28.5,262 30,250 C31,241 37,237.6 45,237.6 C52,237.6 53,242 53,248 C53,253.5 57,254.5 58,251 C60,244 65,240.6 71,240.8 C78,241 80,247 83,252 C86,256.5 90,255.5 92,251 C95,244 98,239.4 104,239.5 C110,239.6 112,245 114,250 C116,254.5 121,254 122.5,249 C124,242 125,236 132,235.7 C138,235.5 142,236.5 142.5,241 C143,248 147,252.8 152,252.4 C158,252 160,246 161,241 C162.5,234 166,231.6 170,231.8 C177,232.2 184.5,235 185.2,243 C186,260 184,280 183.5,300 C183,330 181,355 179.5,372 C179,378 176,380 170,380.5 C140,383 80,383 42,380.5 C35,380 32,377 31.5,371 C30,350 29.8,325 29.5,300Z" fill="#f1ece8" stroke="#a58a7c" stroke-width="1"/>
<ellipse cx="144.7" cy="312.6" rx="21.8" ry="31.8" fill="#e6d6d0"/>
<ellipse cx="144.7" cy="312.6" rx="21" ry="31" fill="#c8aaa2"/>
<path d="M142.9,283.0 L143.6,283.5 L144.3,284.0 L145.1,284.5 L145.8,285.0 L146.5,285.5 L147.2,286.0 L147.7,286.5 L148.2,287.0 L148.6,287.5 L148.8,288.0 L149.0,288.5 L149.0,289.0 L148.9,289.5 L148.6,290.0 L148.3,290.5 L147.8,291.0 L147.3,291.5 L146.7,292.0 L146.0,292.5 L145.2,293.0 L144.5,293.5 L143.8,294.0 L143.0,294.5 L142.3,295.0 L141.7,295.5 L141.2,296.0 L140.7,296.5 L140.4,297.0 L140.1,297.5 L140.0,298.0 L140.0,298.5 L140.2,299.0 L140.4,299.5 L140.8,300.0 L141.3,300.5 L141.8,301.0 L142.5,301.5 L143.2,302.0 L143.9,302.5 L144.7,303.0 L145.4,303.5 L146.1,304.0 L146.8,304.5 L147.4,305.0 L147.9,305.5 L148.4,306.0 L148.7,306.5 L148.9,307.0 L149.0,307.5 L149.0,308.0 L148.8,308.5 L148.5,309.0 L148.1,309.5 L147.6,310.0 L147.0,310.5 L146.4,311.0 L145.7,311.5 L145.0,312.0 L144.2,312.5 L143.5,313.0 L142.7,313.5 L142.1,314.0 L141.5,314.5 L141.0,315.0 L140.6,315.5 L140.2,316.0 L140.1,316.5 L140.0,317.0 L140.1,317.5 L140.2,318.0 L140.6,318.5 L141.0,319.0 L141.5,319.5 L142.1,320.0 L142.7,320.5 L143.5,321.0 L144.2,321.5 L145.0,322.0 L145.7,322.5 L146.4,323.0 L147.0,323.5 L147.6,324.0 L148.1,324.5 L148.5,325.0 L148.8,325.5 L149.0,326.0 L149.0,326.5 L148.9,327.0 L148.7,327.5 L148.4,328.0 L147.9,328.5 L147.4,329.0 L146.8,329.5 L146.1,330.0 L145.4,330.5 L144.7,331.0 L143.9,331.5 L143.2,332.0 L142.5,332.5 L141.8,333.0 L141.3,333.5 L140.8,334.0 L140.4,334.5 L140.2,335.0 L140.0,335.5 L140.0,336.0 L140.1,336.5 L140.4,337.0 L140.7,337.5 L141.2,338.0" fill="none" stroke="#33262a" stroke-width="1" stroke-linecap="round"/>
<path d="M141.8,286.0 L141.3,286.5 L140.8,287.0 L140.4,287.5 L140.2,288.0 L140.0,288.5 L140.0,289.0 L140.1,289.5 L140.4,290.0 L140.7,290.5 L141.2,291.0 L141.7,291.5 L142.3,292.0 L143.0,292.5 L143.8,293.0 L144.5,293.5 L145.2,294.0 L146.0,294.5 L146.7,295.0 L147.3,295.5 L147.8,296.0 L148.3,296.5 L148.6,297.0 L148.9,297.5 L149.0,298.0 L149.0,298.5 L148.8,299.0 L148.6,299.5 L148.2,300.0 L147.7,300.5 L147.2,301.0 L146.5,301.5 L145.8,302.0 L145.1,302.5 L144.3,303.0 L143.6,303.5 L142.9,304.0 L142.2,304.5 L141.6,305.0 L141.1,305.5 L140.6,306.0 L140.3,306.5 L140.1,307.0 L140.0,307.5 L140.0,308.0 L140.2,308.5 L140.5,309.0 L140.9,309.5 L141.4,310.0 L142.0,310.5 L142.6,311.0 L143.3,311.5 L144.0,312.0 L144.8,312.5 L145.5,313.0 L146.3,313.5 L146.9,314.0 L147.5,314.5 L148.0,315.0 L148.4,315.5 L148.8,316.0 L148.9,316.5 L149.0,317.0 L148.9,317.5 L148.8,318.0 L148.4,318.5 L148.0,319.0 L147.5,319.5 L146.9,320.0 L146.3,320.5 L145.5,321.0 L144.8,321.5 L144.0,322.0 L143.3,322.5 L142.6,323.0 L142.0,323.5 L141.4,324.0 L140.9,324.5 L140.5,325.0 L140.2,325.5 L140.0,326.0 L140.0,326.5 L140.1,327.0 L140.3,327.5 L140.6,328.0 L141.1,328.5 L141.6,329.0 L142.2,329.5 L142.9,330.0 L143.6,330.5 L144.3,331.0 L145.1,331.5 L145.8,332.0 L146.5,332.5 L147.2,333.0 L147.7,333.5 L148.2,334.0 L148.6,334.5 L148.8,335.0 L149.0,335.5 L149.0,336.0 L148.9,336.5 L148.6,337.0 L148.3,337.5 L147.8,338.0 L147.3,338.5 L146.7,339.0 L146.0,339.5 L145.2,340.0 L144.5,340.5 L143.8,341.0 L143.0,341.5" fill="none" stroke="#33262a" stroke-width="1" stroke-linecap="round"/>
<circle cx="72.4" cy="313.9" r="3.0" fill="#5a9e98"/>
<circle cx="71.1" cy="319.3" r="3.0" fill="#7fa2b4"/>
<circle cx="68.3" cy="324.0" r="3.0" fill="#69a8a0"/>
<circle cx="64.3" cy="327.8" r="3.0" fill="#94aebc"/>
<circle cx="59.4" cy="330.3" r="3.0" fill="#b8a49c"/>
<circle cx="54.0" cy="331.3" r="3.0" fill="#5fa59b"/>
<circle cx="48.6" cy="330.7" r="3.0" fill="#86a6b2"/>
<circle cx="43.5" cy="328.7" r="3.0" fill="#5a9e98"/>
<circle cx="39.2" cy="325.3" r="3.0" fill="#7fa2b4"/>
<circle cx="36.0" cy="320.8" r="3.0" fill="#69a8a0"/>
<circle cx="34.2" cy="315.6" r="3.0" fill="#94aebc"/>
<circle cx="34.0" cy="310.1" r="3.0" fill="#b8a49c"/>
<circle cx="35.3" cy="304.7" r="3.0" fill="#5fa59b"/>
<circle cx="38.1" cy="300.0" r="3.0" fill="#86a6b2"/>
<circle cx="42.1" cy="296.2" r="3.0" fill="#5a9e98"/>
<circle cx="47.0" cy="293.7" r="3.0" fill="#7fa2b4"/>
<circle cx="52.4" cy="292.7" r="3.0" fill="#69a8a0"/>
<circle cx="57.8" cy="293.3" r="3.0" fill="#94aebc"/>
<circle cx="62.9" cy="295.3" r="3.0" fill="#b8a49c"/>
<circle cx="67.2" cy="298.7" r="3.0" fill="#5fa59b"/>
<circle cx="70.4" cy="303.2" r="3.0" fill="#86a6b2"/>
<circle cx="72.2" cy="308.4" r="3.0" fill="#5a9e98"/>
<circle cx="53.2" cy="312" r="18.3" fill="#dbe9f1" stroke="#3aa592" stroke-width="1.8"/>
<circle cx="44.0" cy="319.8" r="1.9" fill="#cfe6e6"/>
<circle cx="51.1" cy="297.6" r="1.9" fill="#cfe6e6"/>
<circle cx="48.7" cy="306.8" r="1.9" fill="#c9dcea"/>
<circle cx="50.9" cy="317.7" r="1.9" fill="#c9dcea"/>
<circle cx="50.1" cy="302.2" r="1.9" fill="#cfe6e6"/>
<circle cx="59.7" cy="313.0" r="1.9" fill="#e2e0ee"/>
<circle cx="57.8" cy="304.7" r="1.9" fill="#e8f2f8"/>
<circle cx="47.7" cy="319.3" r="1.9" fill="#c9dcea"/>
<circle cx="51.1" cy="324.1" r="1.9" fill="#e2e0ee"/>
<circle cx="47.6" cy="324.9" r="1.9" fill="#e8f2f8"/>
<circle cx="43.6" cy="304.1" r="1.9" fill="#e8f2f8"/>
<circle cx="44.5" cy="305.3" r="1.9" fill="#e2e0ee"/>
<circle cx="43.9" cy="299.9" r="1.9" fill="#e2e0ee"/>
<circle cx="60.8" cy="321.3" r="1.9" fill="#e8f2f8"/>
<circle cx="53.0" cy="319.2" r="1.9" fill="#e8f2f8"/>
<circle cx="64.9" cy="306.8" r="1.9" fill="#c9dcea"/>
<circle cx="43.5" cy="320.9" r="1.9" fill="#e8f2f8"/>
<circle cx="55.8" cy="303.3" r="1.9" fill="#cfe6e6"/>
<circle cx="48.1" cy="302.4" r="1.9" fill="#e2e0ee"/>
<circle cx="65.1" cy="307.7" r="1.9" fill="#cfe6e6"/>
<circle cx="53.0" cy="326.6" r="1.9" fill="#e8f2f8"/>
<circle cx="57.7" cy="322.4" r="1.9" fill="#cfe6e6"/>
<circle cx="48.7" cy="302.4" r="1.9" fill="#e8f2f8"/>
<circle cx="47.7" cy="311.5" r="1.9" fill="#e8f2f8"/>
<circle cx="43.1" cy="308.3" r="1.9" fill="#e8f2f8"/>
<circle cx="52.9" cy="324.9" r="1.9" fill="#cfe6e6"/>
<circle cx="48.9" cy="303.8" r="1.9" fill="#cfe6e6"/>
<circle cx="64.1" cy="307.3" r="1.9" fill="#e2e0ee"/>
<circle cx="54.6" cy="315.0" r="1.9" fill="#c9dcea"/>
<circle cx="41.8" cy="317.9" r="1.9" fill="#c9dcea"/>
<circle cx="65.0" cy="308.2" r="1.9" fill="#cfe6e6"/>
<circle cx="62.3" cy="313.0" r="1.9" fill="#cfe6e6"/>
<circle cx="67.9" cy="317.1" r="1.9" fill="#e2e0ee"/>
<circle cx="52.9" cy="314.6" r="1.9" fill="#e2e0ee"/>
<circle cx="48.9" cy="304.3" r="1.9" fill="#c9dcea"/>
<circle cx="66.4" cy="319.7" r="1.9" fill="#e2e0ee"/>
<circle cx="58.7" cy="306.8" r="1.9" fill="#cfe6e6"/>
<circle cx="47.4" cy="304.7" r="1.9" fill="#e2e0ee"/>
<circle cx="54.9" cy="300.7" r="1.9" fill="#e8f2f8"/>
<circle cx="54.6" cy="319.7" r="1.9" fill="#e2e0ee"/>
<text x="52.800000000000004" y="317.0" font-family="Liberation Sans, sans-serif" font-weight="bold" text-anchor="middle" fill="#0a0a0a" font-size="14.4"><tspan font-size="10.2" dy="-4.5">213</tspan><tspan dy="4.5">Bi</tspan></text>
<g transform="translate(81.5,311.5) rotate(0.0)">
<path d="M0,0 L28.5,-10.3 L28.5,10.3Z" fill="#fbae52" opacity="0.7" filter="url(#b2)"/>
<path d="M0,0 L28.5,-5.8 L28.5,5.8Z" fill="url(#beam)" filter="url(#b05)"/>
</g>
<circle cx="114.2" cy="307.8" r="2.6" fill="url(#sph4)"/>
<circle cx="116.8" cy="311.0" r="2.6" fill="url(#sph3)"/>
<circle cx="113.8" cy="313.6" r="2.6" fill="url(#sph4)"/>
<circle cx="110.8" cy="309.9" r="2.6" fill="url(#sph3)"/>
<path d="M200.5,226 L223,276 M200.5,389 L225.5,291" fill="none" stroke="#1c1c1c" stroke-width="1.5" stroke-dasharray="5,3.6"/>
<rect x="288" y="245" width="16" height="122.2" fill="url(#vesv)"/>
<rect x="306" y="245" width="17.4" height="122.2" fill="url(#vesv)"/>
<path d="M266,312 C276.5,312 279,319 279,331 V367.2" fill="none" stroke="#f29c1e" stroke-width="10.5"/>
<path d="M343,313 C331.5,313 328.6,320 328.6,332 V367.2" fill="none" stroke="#f29c1e" stroke-width="9"/>
<path d="M264,298.4 C276,299 285,298 289.2,289.5 L289.2,311 C282,311.4 274,309.5 264,306.6Z" fill="#dc363c"/>
<path d="M266,301 C276,302 284,301 289,294.5" fill="none" stroke="#ee6468" stroke-width="2.2"/>
<path d="M266,305.5 C276,308 283,309.4 289,309.6" fill="none" stroke="#b8242c" stroke-width="1.4"/>
<path d="M322.2,289.5 C326,298 333,301 344,301 L344,309.3 C334,311.5 327,313 322.2,313.8Z" fill="#dc363c"/>
<path d="M322.6,295 C327,301 334,303.4 343,303.4" fill="none" stroke="#ee6468" stroke-width="2"/>
<path d="M322.6,312.6 C329,311.4 336,309.8 343,308.2" fill="none" stroke="#b8242c" stroke-width="1.3"/>
<path d="M250,262 C263,260.6 273.8,268 273.8,279.5 C273.8,289 264.6,293.5 264.8,302 C265,312 272.6,318 272.2,329.5 C271.6,345 262,355 250,354.6 C234.5,354.2 224.6,330 224.6,303.5 C224.6,280 235,263.5 250,262Z" fill="#140505" transform="translate(1.6,1.0)"/>
<path d="M250,262 C263,260.6 273.8,268 273.8,279.5 C273.8,289 264.6,293.5 264.8,302 C265,312 272.6,318 272.2,329.5 C271.6,345 262,355 250,354.6 C234.5,354.2 224.6,330 224.6,303.5 C224.6,280 235,263.5 250,262Z" fill="#7e1417"/>
<path d="M250,265.5 C261,264.4 270,270.5 270,279.5 C270,287.5 261,292.5 261.2,302 C261.4,312 268.8,318 268.4,329 C268,342 260,351 250,350.8 C237.5,350.4 228.4,328 228.4,303.5 C228.4,282.5 237.5,266.8 250,265.5Z" fill="#9d1c20"/>
<circle cx="239" cy="277" r="6.6" fill="#c02c2c"/>
<circle cx="238.2" cy="276.2" r="3.3" fill="#d4453f" opacity="0.7"/>
<circle cx="251" cy="272.5" r="6.4" fill="#c02c2c"/>
<circle cx="250.2" cy="271.7" r="3.2" fill="#d4453f" opacity="0.7"/>
<circle cx="262.5" cy="278.5" r="5.6" fill="#c02c2c"/>
<circle cx="261.7" cy="277.7" r="2.8" fill="#d4453f" opacity="0.7"/>
<circle cx="233.5" cy="291" r="6.4" fill="#c02c2c"/>
<circle cx="232.7" cy="290.2" r="3.2" fill="#d4453f" opacity="0.7"/>
<circle cx="232" cy="307" r="6.6" fill="#c02c2c"/>
<circle cx="231.2" cy="306.2" r="3.3" fill="#d4453f" opacity="0.7"/>
<circle cx="234.5" cy="323" r="6.4" fill="#c02c2c"/>
<circle cx="233.7" cy="322.2" r="3.2" fill="#d4453f" opacity="0.7"/>
<circle cx="241.5" cy="338" r="6.6" fill="#c02c2c"/>
<circle cx="240.7" cy="337.2" r="3.3" fill="#d4453f" opacity="0.7"/>
<circle cx="254" cy="343.5" r="6.2" fill="#c02c2c"/>
<circle cx="253.2" cy="342.7" r="3.1" fill="#d4453f" opacity="0.7"/>
<circle cx="263.5" cy="333.5" r="5.4" fill="#c02c2c"/>
<circle cx="262.7" cy="332.7" r="2.7" fill="#d4453f" opacity="0.7"/>
<path d="M265,300 L254,293 L251,281 M259,296.5 L257.5,279 M255,294 L246,285 M265,301 L248,298 L239,292 M250,299 L241,303 L236,311 M265,303 L250,306 L243,315 M264,305 L254,315 L250,329 M259,310 L258.5,327 M252,320 L245,326" fill="none" stroke="#fdf6f4" stroke-width="1.7" stroke-linecap="round" stroke-linejoin="round"/>
<path d="M266,298.5 L268,306 L253,303 Z" fill="#fdf6f4"/>
<path d="M262,299 L260,288 L263,281 M248,297 L242,286 M247,307 L238,306 M249,318 L241,322 M256,322 L253,338 M261,318 L263,327" fill="none" stroke="#fbeeea" stroke-width="1.2" stroke-linecap="round" stroke-linejoin="round" opacity="0.9"/>
<path d="M246,335 c-4,-5 4,-9 7,-4 c2,4 -3,6 -4,2" fill="none" stroke="#fdf6f4" stroke-width="1.5" stroke-linecap="round"/>
<rect x="223.5" y="275.5" width="21.5" height="16" fill="none" stroke="#222" stroke-width="1" stroke-dasharray="3.2,2.4"/>
<path d="M356,264 C372,263 384.5,282 384.5,307 C384.5,334 371,357.5 354,357 C342,356.6 334.5,346 334.5,333 C334.5,321 343.5,314 343.5,303.5 C343.5,294 335.3,290 335.3,279 C335.3,270 344,264.6 356,264Z" fill="#160606" transform="translate(-1.3,1.5)"/>
<path d="M356,264 C372,263 384.5,282 384.5,307 C384.5,334 371,357.5 354,357 C342,356.6 334.5,346 334.5,333 C334.5,321 343.5,314 343.5,303.5 C343.5,294 335.3,290 335.3,279 C335.3,270 344,264.6 356,264Z" fill="#701719"/>
<circle cx="349.7" cy="271.4" r="5.6" fill="#f6d21c" stroke="#1a1408" stroke-width="0.6"/>
<path d="M348.92,270.04 L347.40,267.42 A4.59,4.59 0 0 1 352.00,267.42 L350.48,270.04 A1.57,1.57 0 0 0 348.92,270.04Z" fill="#1a1408"/>
<path d="M351.27,271.40 L354.29,271.40 A4.59,4.59 0 0 1 352.00,275.38 L350.48,272.76 A1.57,1.57 0 0 0 351.27,271.40Z" fill="#1a1408"/>
<path d="M348.92,272.76 L347.40,275.38 A4.59,4.59 0 0 1 345.11,271.40 L348.13,271.40 A1.57,1.57 0 0 0 348.92,272.76Z" fill="#1a1408"/>
<circle cx="349.7" cy="271.4" r="0.90" fill="#1a1408"/>
<circle cx="364.1" cy="276.9" r="5.6" fill="#f6d21c" stroke="#1a1408" stroke-width="0.6"/>
<path d="M363.32,275.54 L361.80,272.92 A4.59,4.59 0 0 1 366.40,272.92 L364.88,275.54 A1.57,1.57 0 0 0 363.32,275.54Z" fill="#1a1408"/>
<path d="M365.67,276.90 L368.69,276.90 A4.59,4.59 0 0 1 366.40,280.88 L364.88,278.26 A1.57,1.57 0 0 0 365.67,276.90Z" fill="#1a1408"/>
<path d="M363.32,278.26 L361.80,280.88 A4.59,4.59 0 0 1 359.51,276.90 L362.53,276.90 A1.57,1.57 0 0 0 363.32,278.26Z" fill="#1a1408"/>
<circle cx="364.1" cy="276.9" r="0.90" fill="#1a1408"/>
<circle cx="372.1" cy="288.7" r="5.6" fill="#f6d21c" stroke="#1a1408" stroke-width="0.6"/>
<path d="M371.32,287.34 L369.80,284.72 A4.59,4.59 0 0 1 374.40,284.72 L372.88,287.34 A1.57,1.57 0 0 0 371.32,287.34Z" fill="#1a1408"/>
<path d="M373.67,288.70 L376.69,288.70 A4.59,4.59 0 0 1 374.40,292.68 L372.88,290.06 A1.57,1.57 0 0 0 373.67,288.70Z" fill="#1a1408"/>
<path d="M371.32,290.06 L369.80,292.68 A4.59,4.59 0 0 1 367.51,288.70 L370.53,288.70 A1.57,1.57 0 0 0 371.32,290.06Z" fill="#1a1408"/>
<circle cx="372.1" cy="288.7" r="0.90" fill="#1a1408"/>
<circle cx="376.3" cy="304.1" r="5.6" fill="#f6d21c" stroke="#1a1408" stroke-width="0.6"/>
<path d="M375.52,302.74 L374.00,300.12 A4.59,4.59 0 0 1 378.60,300.12 L377.08,302.74 A1.57,1.57 0 0 0 375.52,302.74Z" fill="#1a1408"/>
<path d="M377.87,304.10 L380.89,304.10 A4.59,4.59 0 0 1 378.60,308.08 L377.08,305.46 A1.57,1.57 0 0 0 377.87,304.10Z" fill="#1a1408"/>
<path d="M375.52,305.46 L374.00,308.08 A4.59,4.59 0 0 1 371.71,304.10 L374.73,304.10 A1.57,1.57 0 0 0 375.52,305.46Z" fill="#1a1408"/>
<circle cx="376.3" cy="304.1" r="0.90" fill="#1a1408"/>
<circle cx="375.3" cy="320.1" r="5.6" fill="#f6d21c" stroke="#1a1408" stroke-width="0.6"/>
<path d="M374.52,318.74 L373.00,316.12 A4.59,4.59 0 0 1 377.60,316.12 L376.08,318.74 A1.57,1.57 0 0 0 374.52,318.74Z" fill="#1a1408"/>
<path d="M376.87,320.10 L379.89,320.10 A4.59,4.59 0 0 1 377.60,324.08 L376.08,321.46 A1.57,1.57 0 0 0 376.87,320.10Z" fill="#1a1408"/>
<path d="M374.52,321.46 L373.00,324.08 A4.59,4.59 0 0 1 370.71,320.10 L373.73,320.10 A1.57,1.57 0 0 0 374.52,321.46Z" fill="#1a1408"/>
<circle cx="375.3" cy="320.1" r="0.90" fill="#1a1408"/>
<circle cx="368.9" cy="336.2" r="5.6" fill="#f6d21c" stroke="#1a1408" stroke-width="0.6"/>
<path d="M368.12,334.84 L366.60,332.22 A4.59,4.59 0 0 1 371.20,332.22 L369.68,334.84 A1.57,1.57 0 0 0 368.12,334.84Z" fill="#1a1408"/>
<path d="M370.47,336.20 L373.49,336.20 A4.59,4.59 0 0 1 371.20,340.18 L369.68,337.56 A1.57,1.57 0 0 0 370.47,336.20Z" fill="#1a1408"/>
<path d="M368.12,337.56 L366.60,340.18 A4.59,4.59 0 0 1 364.31,336.20 L367.33,336.20 A1.57,1.57 0 0 0 368.12,337.56Z" fill="#1a1408"/>
<circle cx="368.9" cy="336.2" r="0.90" fill="#1a1408"/>
<circle cx="357.7" cy="346.4" r="5.6" fill="#f6d21c" stroke="#1a1408" stroke-width="0.6"/>
<path d="M356.92,345.04 L355.40,342.42 A4.59,4.59 0 0 1 360.00,342.42 L358.48,345.04 A1.57,1.57 0 0 0 356.92,345.04Z" fill="#1a1408"/>
<path d="M359.27,346.40 L362.29,346.40 A4.59,4.59 0 0 1 360.00,350.38 L358.48,347.76 A1.57,1.57 0 0 0 359.27,346.40Z" fill="#1a1408"/>
<path d="M356.92,347.76 L355.40,350.38 A4.59,4.59 0 0 1 353.11,346.40 L356.13,346.40 A1.57,1.57 0 0 0 356.92,347.76Z" fill="#1a1408"/>
<circle cx="357.7" cy="346.4" r="0.90" fill="#1a1408"/>
<path d="M400.8,392 C388,394.4 375.5,391 368,376.6 L371.6,374.8 L362,364.8 L357.2,380.6 L362,378.8 C366.5,395 383,401 400.8,394.8Z" fill="url(#pink2)"/>
<text x="124.8" y="410.2" font-family="Liberation Sans, sans-serif" font-size="14.25" font-weight="normal" text-anchor="start" fill="#222" >Kidney accumulation and nephrotoxicity</text>
</svg>
</body></html>
